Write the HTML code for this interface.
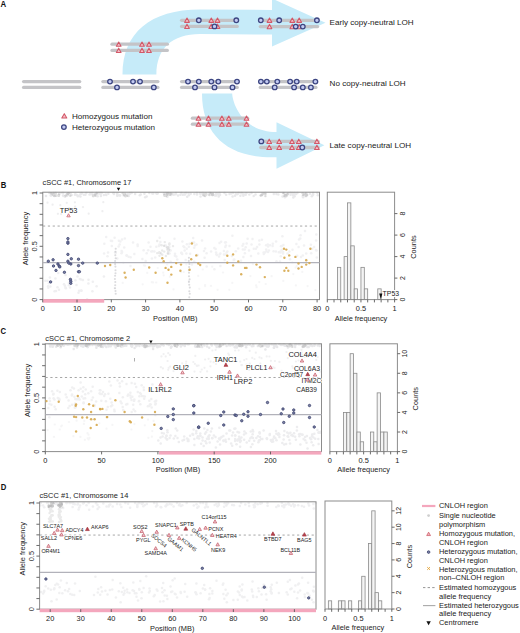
<!DOCTYPE html>
<html><head><meta charset="utf-8"><style>
html,body{margin:0;padding:0;background:#fff;width:520px;height:633px;overflow:hidden}
svg{display:block;font-family:"Liberation Sans",sans-serif}
</style></head><body>
<svg width="520" height="633" viewBox="0 0 520 633">
<text transform="translate(0.4,7.1) scale(0.8,1)" font-size="9.8" font-weight="bold" fill="#111">A</text>
<path d="M122.5,74.5 C122.5,32.84 150.40,9.4 200,9.4 L272,9.9 L272,-1.5 L325.5,22.8 L272,46.5 L272,34.5 L200,34.0 C172.10,34.0 156.4,48.58 156.4,74.5 Z" fill="#c6ebf9"/>
<path d="M202.0,93.5 C202.0,134.33 227.20,157.3 272,157.3 L276.5,157.3 L276.5,168.8 L324.4,145.3 L276.5,122.3 L276.5,132.0 C241.06,132.0 232.2,101.20 232.2,93.5 Z" fill="#c6ebf9"/>
<line x1="23.6" y1="81.6" x2="79.7" y2="81.6" stroke="#c4c4c7" stroke-width="3.3" stroke-linecap="round"/>
<line x1="23.6" y1="87.4" x2="79.7" y2="87.4" stroke="#c4c4c7" stroke-width="3.3" stroke-linecap="round"/>
<line x1="102.89999999999999" y1="81.6" x2="157.9" y2="81.6" stroke="#c4c4c7" stroke-width="3.3" stroke-linecap="round"/>
<line x1="102.89999999999999" y1="87.4" x2="157.9" y2="87.4" stroke="#c4c4c7" stroke-width="3.3" stroke-linecap="round"/>
<circle cx="110.00" cy="81.60" r="2.3" fill="#c3cbf2" stroke="#3d4682" stroke-width="1.3"/>
<circle cx="133.00" cy="81.60" r="2.3" fill="#c3cbf2" stroke="#3d4682" stroke-width="1.3"/>
<circle cx="140.00" cy="81.60" r="2.3" fill="#c3cbf2" stroke="#3d4682" stroke-width="1.3"/>
<circle cx="117.00" cy="87.40" r="2.3" fill="#c3cbf2" stroke="#3d4682" stroke-width="1.3"/>
<circle cx="153.80" cy="87.40" r="2.3" fill="#c3cbf2" stroke="#3d4682" stroke-width="1.3"/>
<line x1="181.6" y1="81.6" x2="237.20000000000002" y2="81.6" stroke="#c4c4c7" stroke-width="3.3" stroke-linecap="round"/>
<line x1="181.6" y1="87.4" x2="237.20000000000002" y2="87.4" stroke="#c4c4c7" stroke-width="3.3" stroke-linecap="round"/>
<circle cx="188.00" cy="81.60" r="2.3" fill="#c3cbf2" stroke="#3d4682" stroke-width="1.3"/>
<circle cx="198.80" cy="81.60" r="2.3" fill="#c3cbf2" stroke="#3d4682" stroke-width="1.3"/>
<circle cx="211.30" cy="81.60" r="2.3" fill="#c3cbf2" stroke="#3d4682" stroke-width="1.3"/>
<circle cx="218.30" cy="81.60" r="2.3" fill="#c3cbf2" stroke="#3d4682" stroke-width="1.3"/>
<circle cx="237.00" cy="81.60" r="2.3" fill="#c3cbf2" stroke="#3d4682" stroke-width="1.3"/>
<circle cx="195.00" cy="87.40" r="2.3" fill="#c3cbf2" stroke="#3d4682" stroke-width="1.3"/>
<circle cx="214.50" cy="87.40" r="2.3" fill="#c3cbf2" stroke="#3d4682" stroke-width="1.3"/>
<circle cx="232.50" cy="87.40" r="2.3" fill="#c3cbf2" stroke="#3d4682" stroke-width="1.3"/>
<line x1="260.3" y1="81.6" x2="315.9" y2="81.6" stroke="#c4c4c7" stroke-width="3.3" stroke-linecap="round"/>
<line x1="260.3" y1="87.4" x2="315.9" y2="87.4" stroke="#c4c4c7" stroke-width="3.3" stroke-linecap="round"/>
<circle cx="260.90" cy="81.60" r="2.3" fill="#c3cbf2" stroke="#3d4682" stroke-width="1.3"/>
<circle cx="266.80" cy="81.60" r="2.3" fill="#c3cbf2" stroke="#3d4682" stroke-width="1.3"/>
<circle cx="277.30" cy="81.60" r="2.3" fill="#c3cbf2" stroke="#3d4682" stroke-width="1.3"/>
<circle cx="290.10" cy="81.60" r="2.3" fill="#c3cbf2" stroke="#3d4682" stroke-width="1.3"/>
<circle cx="296.70" cy="81.60" r="2.3" fill="#c3cbf2" stroke="#3d4682" stroke-width="1.3"/>
<circle cx="315.40" cy="81.60" r="2.3" fill="#c3cbf2" stroke="#3d4682" stroke-width="1.3"/>
<circle cx="274.70" cy="87.40" r="2.3" fill="#c3cbf2" stroke="#3d4682" stroke-width="1.3"/>
<circle cx="294.10" cy="87.40" r="2.3" fill="#c3cbf2" stroke="#3d4682" stroke-width="1.3"/>
<circle cx="302.80" cy="87.40" r="2.3" fill="#c3cbf2" stroke="#3d4682" stroke-width="1.3"/>
<circle cx="310.90" cy="87.40" r="2.3" fill="#c3cbf2" stroke="#3d4682" stroke-width="1.3"/>
<line x1="112.0" y1="44.2" x2="167.3" y2="44.2" stroke="#c4c4c7" stroke-width="3.3" stroke-linecap="round"/>
<line x1="112.0" y1="50.4" x2="167.3" y2="50.4" stroke="#c4c4c7" stroke-width="3.3" stroke-linecap="round"/>
<path d="M118.70,41.95 L121.05,46.25 L116.35,46.25 Z" fill="#f6bfc8" stroke="#d25868" stroke-width="1.05" stroke-linejoin="round"/>
<path d="M118.70,48.15 L121.05,52.45 L116.35,52.45 Z" fill="#f6bfc8" stroke="#d25868" stroke-width="1.05" stroke-linejoin="round"/>
<path d="M142.00,41.95 L144.35,46.25 L139.65,46.25 Z" fill="#f6bfc8" stroke="#d25868" stroke-width="1.05" stroke-linejoin="round"/>
<path d="M142.00,48.15 L144.35,52.45 L139.65,52.45 Z" fill="#f6bfc8" stroke="#d25868" stroke-width="1.05" stroke-linejoin="round"/>
<path d="M149.00,41.95 L151.35,46.25 L146.65,46.25 Z" fill="#f6bfc8" stroke="#d25868" stroke-width="1.05" stroke-linejoin="round"/>
<path d="M149.00,48.15 L151.35,52.45 L146.65,52.45 Z" fill="#f6bfc8" stroke="#d25868" stroke-width="1.05" stroke-linejoin="round"/>
<line x1="181.6" y1="20.3" x2="237.20000000000002" y2="20.3" stroke="#c4c4c7" stroke-width="3.3" stroke-linecap="round"/>
<line x1="181.6" y1="26.4" x2="237.20000000000002" y2="26.4" stroke="#c4c4c7" stroke-width="3.3" stroke-linecap="round"/>
<path d="M187.00,18.05 L189.35,22.35 L184.65,22.35 Z" fill="#f6bfc8" stroke="#d25868" stroke-width="1.05" stroke-linejoin="round"/>
<path d="M211.30,18.05 L213.65,22.35 L208.95,22.35 Z" fill="#f6bfc8" stroke="#d25868" stroke-width="1.05" stroke-linejoin="round"/>
<path d="M217.50,18.05 L219.85,22.35 L215.15,22.35 Z" fill="#f6bfc8" stroke="#d25868" stroke-width="1.05" stroke-linejoin="round"/>
<circle cx="198.80" cy="20.30" r="2.3" fill="#c3cbf2" stroke="#3d4682" stroke-width="1.3"/>
<circle cx="236.30" cy="20.30" r="2.3" fill="#c3cbf2" stroke="#3d4682" stroke-width="1.3"/>
<path d="M187.00,24.15 L189.35,28.45 L184.65,28.45 Z" fill="#f6bfc8" stroke="#d25868" stroke-width="1.05" stroke-linejoin="round"/>
<path d="M211.30,24.15 L213.65,28.45 L208.95,28.45 Z" fill="#f6bfc8" stroke="#d25868" stroke-width="1.05" stroke-linejoin="round"/>
<path d="M217.50,24.15 L219.85,28.45 L215.15,28.45 Z" fill="#f6bfc8" stroke="#d25868" stroke-width="1.05" stroke-linejoin="round"/>
<circle cx="214.50" cy="26.40" r="2.3" fill="#c3cbf2" stroke="#3d4682" stroke-width="1.3"/>
<line x1="260.3" y1="20.3" x2="317.59999999999997" y2="20.3" stroke="#c4c4c7" stroke-width="3.3" stroke-linecap="round"/>
<line x1="260.3" y1="26.6" x2="317.59999999999997" y2="26.6" stroke="#c4c4c7" stroke-width="3.3" stroke-linecap="round"/>
<path d="M269.50,18.05 L271.85,22.35 L267.15,22.35 Z" fill="#f6bfc8" stroke="#d25868" stroke-width="1.05" stroke-linejoin="round"/>
<path d="M292.30,18.05 L294.65,22.35 L289.95,22.35 Z" fill="#f6bfc8" stroke="#d25868" stroke-width="1.05" stroke-linejoin="round"/>
<path d="M299.20,18.05 L301.55,22.35 L296.85,22.35 Z" fill="#f6bfc8" stroke="#d25868" stroke-width="1.05" stroke-linejoin="round"/>
<circle cx="260.80" cy="20.30" r="2.3" fill="#c3cbf2" stroke="#3d4682" stroke-width="1.3"/>
<circle cx="279.20" cy="20.30" r="2.3" fill="#c3cbf2" stroke="#3d4682" stroke-width="1.3"/>
<circle cx="316.90" cy="20.30" r="2.3" fill="#c3cbf2" stroke="#3d4682" stroke-width="1.3"/>
<path d="M269.50,24.35 L271.85,28.65 L267.15,28.65 Z" fill="#f6bfc8" stroke="#d25868" stroke-width="1.05" stroke-linejoin="round"/>
<path d="M292.30,24.35 L294.65,28.65 L289.95,28.65 Z" fill="#f6bfc8" stroke="#d25868" stroke-width="1.05" stroke-linejoin="round"/>
<path d="M299.20,24.35 L301.55,28.65 L296.85,28.65 Z" fill="#f6bfc8" stroke="#d25868" stroke-width="1.05" stroke-linejoin="round"/>
<circle cx="295.70" cy="26.60" r="2.3" fill="#c3cbf2" stroke="#3d4682" stroke-width="1.3"/>
<circle cx="302.80" cy="26.60" r="2.3" fill="#c3cbf2" stroke="#3d4682" stroke-width="1.3"/>
<line x1="192.4" y1="118.2" x2="247.70000000000002" y2="118.2" stroke="#c4c4c7" stroke-width="3.3" stroke-linecap="round"/>
<line x1="192.4" y1="124.2" x2="247.70000000000002" y2="124.2" stroke="#c4c4c7" stroke-width="3.3" stroke-linecap="round"/>
<path d="M198.50,115.95 L200.85,120.25 L196.15,120.25 Z" fill="#f6bfc8" stroke="#d25868" stroke-width="1.05" stroke-linejoin="round"/>
<path d="M198.50,121.95 L200.85,126.25 L196.15,126.25 Z" fill="#f6bfc8" stroke="#d25868" stroke-width="1.05" stroke-linejoin="round"/>
<path d="M208.50,115.95 L210.85,120.25 L206.15,120.25 Z" fill="#f6bfc8" stroke="#d25868" stroke-width="1.05" stroke-linejoin="round"/>
<path d="M208.50,121.95 L210.85,126.25 L206.15,126.25 Z" fill="#f6bfc8" stroke="#d25868" stroke-width="1.05" stroke-linejoin="round"/>
<path d="M221.90,115.95 L224.25,120.25 L219.55,120.25 Z" fill="#f6bfc8" stroke="#d25868" stroke-width="1.05" stroke-linejoin="round"/>
<path d="M221.90,121.95 L224.25,126.25 L219.55,126.25 Z" fill="#f6bfc8" stroke="#d25868" stroke-width="1.05" stroke-linejoin="round"/>
<path d="M228.80,115.95 L231.15,120.25 L226.45,120.25 Z" fill="#f6bfc8" stroke="#d25868" stroke-width="1.05" stroke-linejoin="round"/>
<path d="M228.80,121.95 L231.15,126.25 L226.45,126.25 Z" fill="#f6bfc8" stroke="#d25868" stroke-width="1.05" stroke-linejoin="round"/>
<path d="M246.50,115.95 L248.85,120.25 L244.15,120.25 Z" fill="#f6bfc8" stroke="#d25868" stroke-width="1.05" stroke-linejoin="round"/>
<path d="M246.50,121.95 L248.85,126.25 L244.15,126.25 Z" fill="#f6bfc8" stroke="#d25868" stroke-width="1.05" stroke-linejoin="round"/>
<line x1="260.8" y1="141.4" x2="318.2" y2="141.4" stroke="#c4c4c7" stroke-width="3.3" stroke-linecap="round"/>
<line x1="260.8" y1="147.5" x2="318.2" y2="147.5" stroke="#c4c4c7" stroke-width="3.3" stroke-linecap="round"/>
<circle cx="261.30" cy="141.40" r="2.3" fill="#c3cbf2" stroke="#3d4682" stroke-width="1.3"/>
<path d="M269.20,139.15 L271.55,143.45 L266.85,143.45 Z" fill="#f6bfc8" stroke="#d25868" stroke-width="1.05" stroke-linejoin="round"/>
<path d="M279.20,139.15 L281.55,143.45 L276.85,143.45 Z" fill="#f6bfc8" stroke="#d25868" stroke-width="1.05" stroke-linejoin="round"/>
<path d="M292.00,139.15 L294.35,143.45 L289.65,143.45 Z" fill="#f6bfc8" stroke="#d25868" stroke-width="1.05" stroke-linejoin="round"/>
<path d="M298.80,139.15 L301.15,143.45 L296.45,143.45 Z" fill="#f6bfc8" stroke="#d25868" stroke-width="1.05" stroke-linejoin="round"/>
<path d="M316.90,139.15 L319.25,143.45 L314.55,143.45 Z" fill="#f6bfc8" stroke="#d25868" stroke-width="1.05" stroke-linejoin="round"/>
<path d="M269.20,145.25 L271.55,149.55 L266.85,149.55 Z" fill="#f6bfc8" stroke="#d25868" stroke-width="1.05" stroke-linejoin="round"/>
<path d="M279.20,145.25 L281.55,149.55 L276.85,149.55 Z" fill="#f6bfc8" stroke="#d25868" stroke-width="1.05" stroke-linejoin="round"/>
<path d="M292.00,145.25 L294.35,149.55 L289.65,149.55 Z" fill="#f6bfc8" stroke="#d25868" stroke-width="1.05" stroke-linejoin="round"/>
<path d="M298.80,145.25 L301.15,149.55 L296.45,149.55 Z" fill="#f6bfc8" stroke="#d25868" stroke-width="1.05" stroke-linejoin="round"/>
<path d="M316.90,145.25 L319.25,149.55 L314.55,149.55 Z" fill="#f6bfc8" stroke="#d25868" stroke-width="1.05" stroke-linejoin="round"/>
<circle cx="302.30" cy="147.50" r="2.3" fill="#c3cbf2" stroke="#3d4682" stroke-width="1.3"/>
<path d="M64.30,113.65 L66.80,117.95 L61.80,117.95 Z" fill="#f6bfc8" stroke="#d25868" stroke-width="1.05" stroke-linejoin="round"/>
<circle cx="63.90" cy="127.10" r="2.3" fill="#c3cbf2" stroke="#3d4682" stroke-width="1.3"/>
<text x="71.90" y="119.10" font-size="8.1" text-anchor="start" fill="#222" font-weight="normal">Homozygous mutation</text>
<text x="71.90" y="130.10" font-size="8.1" text-anchor="start" fill="#222" font-weight="normal">Heterozygous mutation</text>
<text x="329.60" y="25.00" font-size="8.1" text-anchor="start" fill="#222" font-weight="normal">Early copy-neutral LOH</text>
<text x="329.60" y="86.40" font-size="8.1" text-anchor="start" fill="#222" font-weight="normal">No copy-neutral LOH</text>
<text x="329.60" y="147.50" font-size="8.1" text-anchor="start" fill="#222" font-weight="normal">Late copy-neutral LOH</text>
<text transform="translate(0.8,187.6) scale(0.78,1)" font-size="9.9" font-weight="bold" fill="#111">B</text>
<text x="42.50" y="185.30" font-size="7.45" text-anchor="start" fill="#222" font-weight="normal">cSCC #1, Chromosome 17</text>
<g fill="#8a8a96" opacity="0.18"><circle cx="167.4" cy="196.8" r="1.25"/><circle cx="171.1" cy="195.1" r="1.25"/><circle cx="182.7" cy="194.8" r="1.25"/><circle cx="183.8" cy="194.5" r="1.25"/><circle cx="216.2" cy="193.9" r="1.25"/><circle cx="126.4" cy="194.6" r="1.25"/><circle cx="67.9" cy="193.3" r="1.25"/><circle cx="54.5" cy="195.9" r="1.25"/><circle cx="313.1" cy="193.0" r="1.25"/><circle cx="212.3" cy="194.5" r="1.25"/><circle cx="86.3" cy="193.0" r="1.25"/><circle cx="59.4" cy="193.9" r="1.25"/><circle cx="95.3" cy="194.1" r="1.25"/><circle cx="170.6" cy="193.8" r="1.25"/><circle cx="164.1" cy="193.2" r="1.25"/><circle cx="219.1" cy="195.4" r="1.25"/><circle cx="180.4" cy="194.8" r="1.25"/><circle cx="119.5" cy="195.3" r="1.25"/><circle cx="317.4" cy="193.0" r="1.25"/><circle cx="237.6" cy="194.1" r="1.25"/><circle cx="129.7" cy="193.9" r="1.25"/><circle cx="62.3" cy="193.0" r="1.25"/><circle cx="253.7" cy="196.1" r="1.25"/><circle cx="149.3" cy="193.0" r="1.25"/><circle cx="306.5" cy="194.0" r="1.25"/><circle cx="100.7" cy="194.1" r="1.25"/><circle cx="293.3" cy="197.6" r="1.25"/><circle cx="152.3" cy="193.4" r="1.25"/><circle cx="63.1" cy="195.6" r="1.25"/><circle cx="117.2" cy="195.7" r="1.25"/><circle cx="67.0" cy="195.7" r="1.25"/><circle cx="251.5" cy="193.0" r="1.25"/><circle cx="75.4" cy="194.1" r="1.25"/><circle cx="59.5" cy="193.5" r="1.25"/><circle cx="262.2" cy="193.3" r="1.25"/><circle cx="166.0" cy="193.0" r="1.25"/><circle cx="95.4" cy="194.1" r="1.25"/><circle cx="220.0" cy="194.7" r="1.25"/><circle cx="75.0" cy="194.8" r="1.25"/><circle cx="117.2" cy="193.6" r="1.25"/><circle cx="310.0" cy="193.7" r="1.25"/><circle cx="286.3" cy="195.1" r="1.25"/><circle cx="100.9" cy="196.0" r="1.25"/><circle cx="219.5" cy="193.0" r="1.25"/><circle cx="70.6" cy="193.2" r="1.25"/><circle cx="114.0" cy="194.1" r="1.25"/><circle cx="255.5" cy="194.6" r="1.25"/><circle cx="63.2" cy="193.1" r="1.25"/><circle cx="67.8" cy="194.9" r="1.25"/><circle cx="208.4" cy="194.5" r="1.25"/><circle cx="145.2" cy="197.2" r="1.25"/><circle cx="176.0" cy="193.1" r="1.25"/><circle cx="201.0" cy="193.5" r="1.25"/><circle cx="85.4" cy="194.7" r="1.25"/><circle cx="292.8" cy="193.7" r="1.25"/><circle cx="95.2" cy="194.9" r="1.25"/><circle cx="246.3" cy="193.3" r="1.25"/><circle cx="304.3" cy="194.4" r="1.25"/><circle cx="285.6" cy="195.1" r="1.25"/><circle cx="71.6" cy="194.9" r="1.25"/><circle cx="53.6" cy="193.1" r="1.25"/><circle cx="236.8" cy="194.3" r="1.25"/><circle cx="113.7" cy="193.3" r="1.25"/><circle cx="123.7" cy="195.6" r="1.25"/><circle cx="91.2" cy="194.2" r="1.25"/><circle cx="105.8" cy="194.5" r="1.25"/><circle cx="196.8" cy="193.0" r="1.25"/><circle cx="120.1" cy="195.5" r="1.25"/><circle cx="295.3" cy="194.0" r="1.25"/><circle cx="117.0" cy="193.8" r="1.25"/><circle cx="165.6" cy="193.3" r="1.25"/><circle cx="144.4" cy="193.8" r="1.25"/><circle cx="200.3" cy="193.2" r="1.25"/><circle cx="288.0" cy="193.2" r="1.25"/><circle cx="312.6" cy="195.1" r="1.25"/><circle cx="203.7" cy="195.7" r="1.25"/><circle cx="81.6" cy="193.8" r="1.25"/><circle cx="293.3" cy="194.0" r="1.25"/><circle cx="235.8" cy="193.8" r="1.25"/><circle cx="218.0" cy="194.1" r="1.25"/><circle cx="175.6" cy="194.2" r="1.25"/><circle cx="317.8" cy="195.2" r="1.25"/><circle cx="63.7" cy="196.1" r="1.25"/><circle cx="290.6" cy="194.7" r="1.25"/><circle cx="245.7" cy="194.7" r="1.25"/><circle cx="294.6" cy="196.2" r="1.25"/><circle cx="139.8" cy="195.2" r="1.25"/><circle cx="282.6" cy="196.6" r="1.25"/><circle cx="157.7" cy="193.4" r="1.25"/><circle cx="200.5" cy="196.5" r="1.25"/><circle cx="214.9" cy="195.3" r="1.25"/><circle cx="210.4" cy="193.0" r="1.25"/><circle cx="65.1" cy="196.7" r="1.25"/><circle cx="284.9" cy="197.2" r="1.25"/><circle cx="243.3" cy="195.7" r="1.25"/><circle cx="202.8" cy="193.0" r="1.25"/><circle cx="164.1" cy="193.8" r="1.25"/><circle cx="249.3" cy="194.5" r="1.25"/><circle cx="51.2" cy="195.2" r="1.25"/><circle cx="106.3" cy="194.9" r="1.25"/><circle cx="235.0" cy="195.8" r="1.25"/><circle cx="296.1" cy="194.0" r="1.25"/><circle cx="113.4" cy="193.0" r="1.25"/><circle cx="229.5" cy="194.0" r="1.25"/><circle cx="98.7" cy="193.0" r="1.25"/><circle cx="224.5" cy="193.0" r="1.25"/><circle cx="164.5" cy="193.2" r="1.25"/><circle cx="226.1" cy="194.8" r="1.25"/><circle cx="97.6" cy="196.2" r="1.25"/><circle cx="294.4" cy="193.1" r="1.25"/><circle cx="285.1" cy="195.3" r="1.25"/><circle cx="130.0" cy="193.0" r="1.25"/><circle cx="80.4" cy="196.5" r="1.25"/><circle cx="276.4" cy="194.0" r="1.25"/><circle cx="238.6" cy="193.1" r="1.25"/><circle cx="89.5" cy="194.4" r="1.25"/><circle cx="166.9" cy="194.2" r="1.25"/><circle cx="156.8" cy="193.2" r="1.25"/><circle cx="215.1" cy="195.2" r="1.25"/><circle cx="273.8" cy="194.0" r="1.25"/><circle cx="313.1" cy="194.5" r="1.25"/><circle cx="51.7" cy="193.9" r="1.25"/><circle cx="283.0" cy="193.0" r="1.25"/><circle cx="199.9" cy="193.5" r="1.25"/><circle cx="128.0" cy="194.0" r="1.25"/><circle cx="80.4" cy="194.3" r="1.25"/><circle cx="168.1" cy="193.0" r="1.25"/><circle cx="108.3" cy="193.7" r="1.25"/><circle cx="81.7" cy="193.0" r="1.25"/><circle cx="165.8" cy="193.5" r="1.25"/><circle cx="216.2" cy="195.4" r="1.25"/><circle cx="306.6" cy="196.0" r="1.25"/><circle cx="231.2" cy="193.6" r="1.25"/><circle cx="92.1" cy="193.0" r="1.25"/><circle cx="46.0" cy="196.1" r="1.25"/><circle cx="92.3" cy="193.7" r="1.25"/><circle cx="117.9" cy="195.2" r="1.25"/><circle cx="186.1" cy="193.0" r="1.25"/><circle cx="212.0" cy="194.0" r="1.25"/><circle cx="260.8" cy="195.3" r="1.25"/><circle cx="292.2" cy="193.0" r="1.25"/><circle cx="241.7" cy="193.0" r="1.25"/><circle cx="78.7" cy="195.8" r="1.25"/><circle cx="293.2" cy="193.5" r="1.25"/><circle cx="146.6" cy="196.5" r="1.25"/><circle cx="262.1" cy="195.2" r="1.25"/><circle cx="302.7" cy="195.9" r="1.25"/><circle cx="99.3" cy="193.6" r="1.25"/><circle cx="241.5" cy="193.3" r="1.25"/><circle cx="240.4" cy="195.7" r="1.25"/><circle cx="101.7" cy="193.0" r="1.25"/><circle cx="311.8" cy="196.2" r="1.25"/><circle cx="190.7" cy="193.8" r="1.25"/><circle cx="293.2" cy="195.2" r="1.25"/><circle cx="278.3" cy="194.4" r="1.25"/><circle cx="164.2" cy="193.6" r="1.25"/><circle cx="194.3" cy="193.9" r="1.25"/><circle cx="50.8" cy="195.5" r="1.25"/><circle cx="265.5" cy="193.0" r="1.25"/><circle cx="90.5" cy="193.2" r="1.25"/><circle cx="135.1" cy="193.9" r="1.25"/><circle cx="83.9" cy="194.8" r="1.25"/><circle cx="185.0" cy="194.5" r="1.25"/><circle cx="232.6" cy="196.5" r="1.25"/><circle cx="303.1" cy="197.2" r="1.25"/><circle cx="66.7" cy="193.9" r="1.25"/><circle cx="103.9" cy="195.1" r="1.25"/><circle cx="243.4" cy="194.2" r="1.25"/><circle cx="218.7" cy="196.5" r="1.25"/><circle cx="197.0" cy="194.4" r="1.25"/><circle cx="128.7" cy="195.9" r="1.25"/><circle cx="290.6" cy="193.0" r="1.25"/><circle cx="100.3" cy="193.0" r="1.25"/><circle cx="187.2" cy="196.8" r="1.25"/><circle cx="200.6" cy="193.6" r="1.25"/><circle cx="181.4" cy="193.0" r="1.25"/><circle cx="209.4" cy="193.0" r="1.25"/><circle cx="184.9" cy="193.5" r="1.25"/><circle cx="153.2" cy="193.5" r="1.25"/><circle cx="178.0" cy="195.6" r="1.25"/><circle cx="233.0" cy="193.0" r="1.25"/><circle cx="156.8" cy="193.4" r="1.25"/><circle cx="306.1" cy="193.2" r="1.25"/><circle cx="173.1" cy="194.5" r="1.25"/><circle cx="77.9" cy="196.2" r="1.25"/><circle cx="290.7" cy="193.1" r="1.25"/><circle cx="174.0" cy="194.4" r="1.25"/><circle cx="212.9" cy="193.3" r="1.25"/><circle cx="297.4" cy="193.0" r="1.25"/><circle cx="49.3" cy="193.0" r="1.25"/><circle cx="96.4" cy="193.8" r="1.25"/><circle cx="131.6" cy="193.0" r="1.25"/><circle cx="140.7" cy="194.5" r="1.25"/><circle cx="244.0" cy="194.5" r="1.25"/><circle cx="76.8" cy="195.0" r="1.25"/><circle cx="97.4" cy="194.1" r="1.25"/><circle cx="188.8" cy="195.2" r="1.25"/><circle cx="156.7" cy="193.6" r="1.25"/><circle cx="188.6" cy="193.6" r="1.25"/><circle cx="216.6" cy="193.3" r="1.25"/></g>
<g fill="#666" opacity="0.22"><circle cx="52.7" cy="194.5" r="1.2"/><circle cx="53.8" cy="194.2" r="1.2"/><circle cx="53.8" cy="195.5" r="1.2"/><circle cx="53.2" cy="193.6" r="1.2"/><circle cx="54.0" cy="195.2" r="1.2"/><circle cx="51.1" cy="193.2" r="1.2"/><circle cx="55.6" cy="193.0" r="1.2"/><circle cx="58.9" cy="195.8" r="1.2"/><circle cx="55.7" cy="193.9" r="1.2"/><circle cx="55.8" cy="195.9" r="1.2"/><circle cx="58.7" cy="194.8" r="1.2"/><circle cx="58.4" cy="195.8" r="1.2"/><circle cx="67.5" cy="194.0" r="1.2"/><circle cx="65.6" cy="195.6" r="1.2"/><circle cx="68.9" cy="193.3" r="1.2"/><circle cx="70.3" cy="195.8" r="1.2"/><circle cx="68.0" cy="193.8" r="1.2"/><circle cx="68.0" cy="194.0" r="1.2"/><circle cx="93.4" cy="196.0" r="1.2"/><circle cx="93.0" cy="196.1" r="1.2"/><circle cx="95.3" cy="194.6" r="1.2"/><circle cx="95.3" cy="195.7" r="1.2"/><circle cx="93.4" cy="195.5" r="1.2"/><circle cx="96.7" cy="193.0" r="1.2"/><circle cx="127.1" cy="195.9" r="1.2"/><circle cx="122.8" cy="193.2" r="1.2"/><circle cx="124.8" cy="193.8" r="1.2"/><circle cx="124.1" cy="194.7" r="1.2"/><circle cx="125.1" cy="194.8" r="1.2"/><circle cx="125.5" cy="196.2" r="1.2"/><circle cx="167.0" cy="193.5" r="1.2"/><circle cx="164.4" cy="194.7" r="1.2"/><circle cx="167.2" cy="194.9" r="1.2"/><circle cx="164.5" cy="195.7" r="1.2"/><circle cx="166.1" cy="196.1" r="1.2"/><circle cx="168.0" cy="193.6" r="1.2"/><circle cx="170.0" cy="193.4" r="1.2"/><circle cx="169.6" cy="194.9" r="1.2"/><circle cx="169.5" cy="194.6" r="1.2"/><circle cx="171.4" cy="193.6" r="1.2"/><circle cx="167.8" cy="193.3" r="1.2"/><circle cx="170.2" cy="193.7" r="1.2"/><circle cx="205.6" cy="194.9" r="1.2"/><circle cx="206.0" cy="193.4" r="1.2"/><circle cx="205.0" cy="193.7" r="1.2"/><circle cx="205.3" cy="194.9" r="1.2"/><circle cx="205.1" cy="196.0" r="1.2"/><circle cx="203.2" cy="194.7" r="1.2"/><circle cx="209.6" cy="195.1" r="1.2"/><circle cx="212.7" cy="194.2" r="1.2"/><circle cx="210.7" cy="193.2" r="1.2"/><circle cx="212.8" cy="195.1" r="1.2"/><circle cx="212.8" cy="194.4" r="1.2"/><circle cx="212.2" cy="195.0" r="1.2"/><circle cx="265.5" cy="194.1" r="1.2"/><circle cx="264.0" cy="193.8" r="1.2"/><circle cx="265.4" cy="196.1" r="1.2"/><circle cx="263.6" cy="193.8" r="1.2"/><circle cx="261.8" cy="194.9" r="1.2"/><circle cx="260.8" cy="195.6" r="1.2"/><circle cx="284.4" cy="195.9" r="1.2"/><circle cx="283.8" cy="193.3" r="1.2"/><circle cx="285.3" cy="194.6" r="1.2"/><circle cx="287.3" cy="194.4" r="1.2"/><circle cx="287.5" cy="194.2" r="1.2"/><circle cx="286.5" cy="196.0" r="1.2"/><circle cx="305.5" cy="193.8" r="1.2"/><circle cx="302.7" cy="193.2" r="1.2"/><circle cx="303.3" cy="194.7" r="1.2"/><circle cx="303.3" cy="194.6" r="1.2"/><circle cx="305.6" cy="196.0" r="1.2"/><circle cx="307.2" cy="194.9" r="1.2"/></g>
<g fill="#8a8a96" opacity="0.14"><circle cx="75.1" cy="206.7" r="1.1"/><circle cx="65.3" cy="210.7" r="1.1"/><circle cx="83.0" cy="207.1" r="1.1"/><circle cx="60.3" cy="205.2" r="1.1"/><circle cx="61.1" cy="214.1" r="1.1"/><circle cx="57.9" cy="213.8" r="1.1"/><circle cx="52.6" cy="204.7" r="1.1"/><circle cx="66.8" cy="202.8" r="1.1"/><circle cx="88.7" cy="213.7" r="1.1"/><circle cx="103.3" cy="202.2" r="1.1"/><circle cx="47.5" cy="202.7" r="1.1"/><circle cx="69.2" cy="208.2" r="1.1"/><circle cx="102.4" cy="211.2" r="1.1"/><circle cx="74.9" cy="202.3" r="1.1"/></g>
<g fill="#8a8a96" opacity="0.13"><circle cx="87.1" cy="299.2" r="1.25"/><circle cx="92.8" cy="281.8" r="1.25"/><circle cx="79.8" cy="279.1" r="1.25"/><circle cx="70.8" cy="279.7" r="1.25"/><circle cx="55.4" cy="278.5" r="1.25"/><circle cx="50.6" cy="282.6" r="1.25"/><circle cx="70.0" cy="287.6" r="1.25"/><circle cx="59.0" cy="289.8" r="1.25"/><circle cx="78.5" cy="292.8" r="1.25"/><circle cx="75.4" cy="280.2" r="1.25"/><circle cx="103.9" cy="276.4" r="1.25"/><circle cx="57.5" cy="287.2" r="1.25"/><circle cx="49.9" cy="277.4" r="1.25"/><circle cx="81.1" cy="290.5" r="1.25"/><circle cx="64.9" cy="285.8" r="1.25"/><circle cx="77.5" cy="276.6" r="1.25"/><circle cx="79.1" cy="290.7" r="1.25"/><circle cx="54.6" cy="291.3" r="1.25"/><circle cx="58.2" cy="272.9" r="1.25"/><circle cx="96.6" cy="286.2" r="1.25"/><circle cx="45.4" cy="280.7" r="1.25"/><circle cx="68.9" cy="283.1" r="1.25"/><circle cx="81.0" cy="279.4" r="1.25"/><circle cx="47.4" cy="280.7" r="1.25"/><circle cx="48.3" cy="287.7" r="1.25"/><circle cx="81.5" cy="290.7" r="1.25"/><circle cx="65.8" cy="288.3" r="1.25"/><circle cx="64.0" cy="284.2" r="1.25"/><circle cx="88.4" cy="283.6" r="1.25"/><circle cx="50.3" cy="286.5" r="1.25"/><circle cx="92.4" cy="291.2" r="1.25"/><circle cx="56.0" cy="291.1" r="1.25"/><circle cx="68.9" cy="285.2" r="1.25"/><circle cx="65.5" cy="275.0" r="1.25"/><circle cx="82.9" cy="280.0" r="1.25"/><circle cx="76.5" cy="285.0" r="1.25"/><circle cx="88.5" cy="279.7" r="1.25"/><circle cx="65.5" cy="287.4" r="1.25"/><circle cx="48.9" cy="283.2" r="1.25"/><circle cx="48.1" cy="286.2" r="1.25"/></g>
<g fill="#8a8a96" opacity="0.11"><circle cx="224.7" cy="260.0" r="1.25"/><circle cx="168.0" cy="248.5" r="1.25"/><circle cx="270.0" cy="245.2" r="1.25"/><circle cx="245.7" cy="247.3" r="1.25"/><circle cx="121.5" cy="253.2" r="1.25"/><circle cx="252.5" cy="239.0" r="1.25"/><circle cx="164.5" cy="245.4" r="1.25"/><circle cx="259.4" cy="244.4" r="1.25"/><circle cx="182.4" cy="241.4" r="1.25"/><circle cx="225.8" cy="242.2" r="1.25"/><circle cx="300.6" cy="235.3" r="1.25"/><circle cx="197.7" cy="255.1" r="1.25"/><circle cx="275.9" cy="251.5" r="1.25"/><circle cx="189.5" cy="243.8" r="1.25"/><circle cx="304.0" cy="245.4" r="1.25"/><circle cx="181.4" cy="252.7" r="1.25"/><circle cx="182.2" cy="254.0" r="1.25"/><circle cx="186.9" cy="244.2" r="1.25"/><circle cx="145.7" cy="260.9" r="1.25"/><circle cx="219.7" cy="254.3" r="1.25"/><circle cx="283.0" cy="253.5" r="1.25"/><circle cx="266.4" cy="251.2" r="1.25"/><circle cx="292.5" cy="249.8" r="1.25"/><circle cx="214.3" cy="248.1" r="1.25"/><circle cx="220.4" cy="266.0" r="1.25"/><circle cx="243.4" cy="256.9" r="1.25"/><circle cx="276.1" cy="241.5" r="1.25"/><circle cx="272.6" cy="246.1" r="1.25"/><circle cx="122.0" cy="239.6" r="1.25"/><circle cx="296.4" cy="243.9" r="1.25"/><circle cx="122.1" cy="252.1" r="1.25"/><circle cx="263.6" cy="252.4" r="1.25"/><circle cx="242.9" cy="249.4" r="1.25"/><circle cx="267.8" cy="244.6" r="1.25"/><circle cx="215.6" cy="248.9" r="1.25"/><circle cx="176.3" cy="256.4" r="1.25"/><circle cx="311.2" cy="253.3" r="1.25"/><circle cx="219.0" cy="256.6" r="1.25"/><circle cx="258.3" cy="253.5" r="1.25"/><circle cx="191.9" cy="264.4" r="1.25"/><circle cx="280.8" cy="256.3" r="1.25"/><circle cx="276.5" cy="261.3" r="1.25"/><circle cx="282.4" cy="236.2" r="1.25"/><circle cx="241.0" cy="260.7" r="1.25"/><circle cx="216.1" cy="252.6" r="1.25"/><circle cx="194.2" cy="261.6" r="1.25"/><circle cx="194.0" cy="242.6" r="1.25"/><circle cx="316.1" cy="240.4" r="1.25"/><circle cx="184.4" cy="247.2" r="1.25"/><circle cx="194.9" cy="245.4" r="1.25"/><circle cx="166.5" cy="247.1" r="1.25"/><circle cx="170.0" cy="250.0" r="1.25"/><circle cx="128.6" cy="256.7" r="1.25"/><circle cx="142.4" cy="259.1" r="1.25"/><circle cx="117.3" cy="258.4" r="1.25"/><circle cx="298.6" cy="247.1" r="1.25"/><circle cx="111.8" cy="246.1" r="1.25"/><circle cx="150.5" cy="246.7" r="1.25"/><circle cx="154.4" cy="251.4" r="1.25"/><circle cx="151.9" cy="258.6" r="1.25"/><circle cx="143.6" cy="250.3" r="1.25"/><circle cx="266.1" cy="245.3" r="1.25"/><circle cx="170.7" cy="261.7" r="1.25"/><circle cx="206.6" cy="253.3" r="1.25"/><circle cx="159.7" cy="237.8" r="1.25"/><circle cx="177.2" cy="259.5" r="1.25"/><circle cx="221.1" cy="241.8" r="1.25"/><circle cx="151.3" cy="251.6" r="1.25"/><circle cx="114.6" cy="237.7" r="1.25"/><circle cx="186.4" cy="253.5" r="1.25"/><circle cx="216.9" cy="255.0" r="1.25"/><circle cx="315.9" cy="250.0" r="1.25"/><circle cx="244.7" cy="249.4" r="1.25"/><circle cx="205.1" cy="248.5" r="1.25"/><circle cx="183.5" cy="246.3" r="1.25"/><circle cx="233.7" cy="260.0" r="1.25"/><circle cx="137.7" cy="246.1" r="1.25"/><circle cx="159.5" cy="244.4" r="1.25"/><circle cx="290.0" cy="259.3" r="1.25"/><circle cx="316.5" cy="250.5" r="1.25"/><circle cx="161.0" cy="253.4" r="1.25"/><circle cx="268.9" cy="250.4" r="1.25"/><circle cx="104.3" cy="243.7" r="1.25"/><circle cx="279.9" cy="261.6" r="1.25"/><circle cx="121.6" cy="250.9" r="1.25"/><circle cx="124.8" cy="238.6" r="1.25"/><circle cx="206.7" cy="266.5" r="1.25"/><circle cx="229.5" cy="246.1" r="1.25"/><circle cx="287.5" cy="253.5" r="1.25"/><circle cx="193.2" cy="238.0" r="1.25"/><circle cx="300.2" cy="238.6" r="1.25"/><circle cx="148.6" cy="242.5" r="1.25"/><circle cx="220.3" cy="253.5" r="1.25"/><circle cx="282.0" cy="250.1" r="1.25"/><circle cx="170.6" cy="250.5" r="1.25"/><circle cx="169.4" cy="246.9" r="1.25"/><circle cx="204.0" cy="250.9" r="1.25"/><circle cx="251.0" cy="255.9" r="1.25"/><circle cx="126.6" cy="255.6" r="1.25"/><circle cx="310.9" cy="244.7" r="1.25"/><circle cx="281.6" cy="250.1" r="1.25"/><circle cx="184.7" cy="250.4" r="1.25"/><circle cx="255.9" cy="248.8" r="1.25"/><circle cx="202.0" cy="240.6" r="1.25"/><circle cx="106.2" cy="237.1" r="1.25"/><circle cx="148.2" cy="250.2" r="1.25"/><circle cx="235.8" cy="251.2" r="1.25"/><circle cx="219.5" cy="243.0" r="1.25"/><circle cx="167.8" cy="253.1" r="1.25"/><circle cx="246.7" cy="243.6" r="1.25"/><circle cx="158.9" cy="246.0" r="1.25"/><circle cx="174.5" cy="238.8" r="1.25"/><circle cx="306.2" cy="259.8" r="1.25"/><circle cx="175.0" cy="253.8" r="1.25"/><circle cx="281.0" cy="246.3" r="1.25"/><circle cx="124.2" cy="247.4" r="1.25"/><circle cx="249.0" cy="250.6" r="1.25"/><circle cx="190.1" cy="253.7" r="1.25"/><circle cx="283.1" cy="252.0" r="1.25"/><circle cx="152.5" cy="251.2" r="1.25"/><circle cx="137.6" cy="244.5" r="1.25"/><circle cx="119.6" cy="244.5" r="1.25"/><circle cx="301.0" cy="256.9" r="1.25"/><circle cx="242.5" cy="245.8" r="1.25"/><circle cx="268.1" cy="246.5" r="1.25"/><circle cx="174.9" cy="255.7" r="1.25"/><circle cx="192.2" cy="242.5" r="1.25"/><circle cx="253.8" cy="248.8" r="1.25"/><circle cx="314.1" cy="247.0" r="1.25"/><circle cx="234.2" cy="259.4" r="1.25"/><circle cx="108.0" cy="252.6" r="1.25"/><circle cx="243.3" cy="244.0" r="1.25"/><circle cx="126.7" cy="255.4" r="1.25"/><circle cx="272.8" cy="243.7" r="1.25"/><circle cx="280.6" cy="252.6" r="1.25"/><circle cx="268.0" cy="252.1" r="1.25"/><circle cx="297.2" cy="255.7" r="1.25"/><circle cx="211.1" cy="251.4" r="1.25"/><circle cx="134.3" cy="254.1" r="1.25"/><circle cx="214.4" cy="269.3" r="1.25"/><circle cx="257.1" cy="247.1" r="1.25"/><circle cx="306.2" cy="253.4" r="1.25"/><circle cx="238.2" cy="248.6" r="1.25"/><circle cx="156.3" cy="246.8" r="1.25"/><circle cx="227.4" cy="251.5" r="1.25"/><circle cx="302.8" cy="255.4" r="1.25"/><circle cx="181.3" cy="253.0" r="1.25"/><circle cx="312.3" cy="248.7" r="1.25"/><circle cx="133.0" cy="242.4" r="1.25"/><circle cx="224.0" cy="254.4" r="1.25"/><circle cx="223.9" cy="250.9" r="1.25"/><circle cx="316.3" cy="234.4" r="1.25"/><circle cx="278.9" cy="252.3" r="1.25"/><circle cx="280.5" cy="251.6" r="1.25"/><circle cx="165.8" cy="245.4" r="1.25"/><circle cx="226.7" cy="252.6" r="1.25"/><circle cx="281.8" cy="246.1" r="1.25"/><circle cx="120.3" cy="241.5" r="1.25"/><circle cx="110.9" cy="240.8" r="1.25"/><circle cx="305.0" cy="231.0" r="1.25"/><circle cx="244.9" cy="253.2" r="1.25"/><circle cx="261.9" cy="239.8" r="1.25"/><circle cx="185.7" cy="260.0" r="1.25"/><circle cx="107.5" cy="256.3" r="1.25"/><circle cx="146.7" cy="253.3" r="1.25"/><circle cx="186.7" cy="248.7" r="1.25"/><circle cx="225.9" cy="245.6" r="1.25"/><circle cx="160.4" cy="242.1" r="1.25"/><circle cx="225.6" cy="254.4" r="1.25"/><circle cx="112.1" cy="240.9" r="1.25"/><circle cx="247.6" cy="238.7" r="1.25"/><circle cx="232.4" cy="235.7" r="1.25"/><circle cx="204.6" cy="257.7" r="1.25"/><circle cx="251.5" cy="244.4" r="1.25"/><circle cx="266.2" cy="249.4" r="1.25"/><circle cx="316.8" cy="257.5" r="1.25"/><circle cx="283.4" cy="245.1" r="1.25"/><circle cx="196.9" cy="255.1" r="1.25"/><circle cx="225.1" cy="242.5" r="1.25"/><circle cx="216.4" cy="254.2" r="1.25"/><circle cx="196.5" cy="244.5" r="1.25"/><circle cx="115.7" cy="252.9" r="1.25"/><circle cx="259.3" cy="240.4" r="1.25"/><circle cx="231.9" cy="256.1" r="1.25"/><circle cx="264.9" cy="252.6" r="1.25"/><circle cx="118.9" cy="240.7" r="1.25"/><circle cx="130.6" cy="257.2" r="1.25"/><circle cx="188.9" cy="246.8" r="1.25"/><circle cx="115.1" cy="252.4" r="1.25"/><circle cx="155.2" cy="257.5" r="1.25"/><circle cx="169.5" cy="253.5" r="1.25"/><circle cx="118.6" cy="246.4" r="1.25"/><circle cx="299.0" cy="239.5" r="1.25"/><circle cx="289.4" cy="251.6" r="1.25"/><circle cx="194.2" cy="247.8" r="1.25"/><circle cx="263.8" cy="254.1" r="1.25"/><circle cx="225.3" cy="246.9" r="1.25"/><circle cx="273.6" cy="251.3" r="1.25"/><circle cx="130.5" cy="266.0" r="1.25"/><circle cx="104.1" cy="253.5" r="1.25"/></g>
<g fill="#8a8a96" opacity="0.08"><circle cx="156.2" cy="282.5" r="1.1"/><circle cx="173.5" cy="289.3" r="1.1"/><circle cx="295.6" cy="267.6" r="1.1"/><circle cx="189.0" cy="280.8" r="1.1"/><circle cx="229.3" cy="289.8" r="1.1"/><circle cx="110.7" cy="265.2" r="1.1"/><circle cx="169.9" cy="276.7" r="1.1"/><circle cx="303.9" cy="262.9" r="1.1"/><circle cx="205.1" cy="285.1" r="1.1"/><circle cx="167.2" cy="264.5" r="1.1"/><circle cx="295.9" cy="285.4" r="1.1"/><circle cx="283.3" cy="280.9" r="1.1"/><circle cx="205.1" cy="286.1" r="1.1"/><circle cx="292.3" cy="262.4" r="1.1"/><circle cx="147.2" cy="272.9" r="1.1"/><circle cx="145.0" cy="265.7" r="1.1"/><circle cx="114.7" cy="288.0" r="1.1"/><circle cx="259.3" cy="282.1" r="1.1"/><circle cx="296.7" cy="266.0" r="1.1"/><circle cx="256.6" cy="287.2" r="1.1"/><circle cx="252.9" cy="264.1" r="1.1"/><circle cx="199.3" cy="288.8" r="1.1"/><circle cx="151.8" cy="282.2" r="1.1"/><circle cx="256.1" cy="285.4" r="1.1"/><circle cx="142.7" cy="284.3" r="1.1"/><circle cx="246.2" cy="268.3" r="1.1"/><circle cx="183.7" cy="272.0" r="1.1"/><circle cx="293.3" cy="274.1" r="1.1"/><circle cx="153.0" cy="282.4" r="1.1"/><circle cx="302.3" cy="271.9" r="1.1"/><circle cx="163.2" cy="272.7" r="1.1"/><circle cx="123.3" cy="262.8" r="1.1"/><circle cx="198.2" cy="275.9" r="1.1"/><circle cx="217.6" cy="289.8" r="1.1"/><circle cx="232.3" cy="282.9" r="1.1"/><circle cx="157.7" cy="268.0" r="1.1"/><circle cx="122.7" cy="282.9" r="1.1"/><circle cx="265.7" cy="284.0" r="1.1"/><circle cx="163.7" cy="275.3" r="1.1"/><circle cx="143.9" cy="265.3" r="1.1"/><circle cx="315.4" cy="290.1" r="1.1"/><circle cx="202.8" cy="269.5" r="1.1"/><circle cx="186.3" cy="264.3" r="1.1"/><circle cx="211.0" cy="285.9" r="1.1"/><circle cx="223.0" cy="272.5" r="1.1"/><circle cx="181.0" cy="272.1" r="1.1"/><circle cx="271.6" cy="276.2" r="1.1"/><circle cx="212.2" cy="266.7" r="1.1"/><circle cx="250.4" cy="276.1" r="1.1"/><circle cx="307.6" cy="286.1" r="1.1"/></g>
<g fill="#7a7a84" opacity="0.26"><circle cx="115.7" cy="248.7" r="1.05"/><circle cx="115.5" cy="251.8" r="1.05"/><circle cx="115.3" cy="255.2" r="1.05"/><circle cx="115.7" cy="258.2" r="1.05"/><circle cx="115.1" cy="261.0" r="1.05"/><circle cx="115.1" cy="264.1" r="1.05"/><circle cx="115.4" cy="266.6" r="1.05"/><circle cx="115.5" cy="270.2" r="1.05"/><circle cx="115.5" cy="273.3" r="1.05"/><circle cx="115.1" cy="275.7" r="1.05"/><circle cx="114.9" cy="279.0" r="1.05"/><circle cx="115.3" cy="282.0" r="1.05"/><circle cx="115.2" cy="285.2" r="1.05"/><circle cx="115.0" cy="288.3" r="1.05"/><circle cx="115.5" cy="291.0" r="1.05"/><circle cx="115.7" cy="293.8" r="1.05"/><circle cx="188.9" cy="257.8" r="1.05"/><circle cx="188.8" cy="260.9" r="1.05"/><circle cx="189.4" cy="264.0" r="1.05"/><circle cx="189.1" cy="267.1" r="1.05"/><circle cx="188.9" cy="270.3" r="1.05"/><circle cx="189.0" cy="272.8" r="1.05"/><circle cx="189.0" cy="276.2" r="1.05"/><circle cx="189.6" cy="279.2" r="1.05"/><circle cx="188.9" cy="281.9" r="1.05"/><circle cx="189.2" cy="284.8" r="1.05"/><circle cx="189.8" cy="287.6" r="1.05"/><circle cx="189.3" cy="291.2" r="1.05"/><circle cx="189.8" cy="293.7" r="1.05"/><circle cx="189.3" cy="297.2" r="1.05"/></g>
<g fill="#666" opacity="0.13"><circle cx="157.2" cy="253.1" r="1.2"/><circle cx="162.3" cy="254.7" r="1.2"/><circle cx="159.4" cy="252.2" r="1.2"/><circle cx="159.5" cy="255.7" r="1.2"/><circle cx="157.2" cy="241.0" r="1.2"/><circle cx="161.6" cy="245.2" r="1.2"/><circle cx="158.4" cy="252.9" r="1.2"/><circle cx="160.3" cy="253.1" r="1.2"/><circle cx="164.8" cy="242.1" r="1.2"/><circle cx="164.2" cy="251.6" r="1.2"/><circle cx="167.9" cy="247.2" r="1.2"/><circle cx="162.2" cy="250.5" r="1.2"/><circle cx="165.9" cy="256.0" r="1.2"/><circle cx="164.1" cy="245.9" r="1.2"/><circle cx="167.2" cy="247.5" r="1.2"/><circle cx="167.3" cy="249.6" r="1.2"/><circle cx="169.4" cy="243.5" r="1.2"/><circle cx="169.3" cy="244.5" r="1.2"/><circle cx="168.3" cy="251.4" r="1.2"/><circle cx="168.1" cy="248.2" r="1.2"/><circle cx="168.0" cy="253.7" r="1.2"/><circle cx="168.3" cy="249.5" r="1.2"/><circle cx="168.9" cy="249.8" r="1.2"/><circle cx="173.0" cy="246.1" r="1.2"/></g>
<rect x="42.8" y="192.2" width="276.7" height="107.40000000000003" fill="none" stroke="#8c8c8c" stroke-width="1.0"/>
<line x1="43" y1="226.05" x2="319.5" y2="226.05" stroke="#9c9c9c" stroke-width="0.9" stroke-dasharray="2.2,2.65"/>
<line x1="43" y1="262.61" x2="319.5" y2="262.61" stroke="#b2b2ba" stroke-width="1.2"/>
<rect x="43" y="299.1" width="61.2" height="3.6" fill="#f4a7bd"/>
<line x1="39.599999999999994" y1="299.60" x2="42.8" y2="299.60" stroke="#5a5a5a" stroke-width="0.9"/>
<line x1="39.599999999999994" y1="288.94" x2="42.8" y2="288.94" stroke="#5a5a5a" stroke-width="0.9"/>
<line x1="39.599999999999994" y1="278.28" x2="42.8" y2="278.28" stroke="#5a5a5a" stroke-width="0.9"/>
<line x1="39.599999999999994" y1="267.62" x2="42.8" y2="267.62" stroke="#5a5a5a" stroke-width="0.9"/>
<line x1="39.599999999999994" y1="256.96" x2="42.8" y2="256.96" stroke="#5a5a5a" stroke-width="0.9"/>
<line x1="39.599999999999994" y1="246.30" x2="42.8" y2="246.30" stroke="#5a5a5a" stroke-width="0.9"/>
<line x1="39.599999999999994" y1="235.64" x2="42.8" y2="235.64" stroke="#5a5a5a" stroke-width="0.9"/>
<line x1="39.599999999999994" y1="224.98" x2="42.8" y2="224.98" stroke="#5a5a5a" stroke-width="0.9"/>
<line x1="39.599999999999994" y1="214.32" x2="42.8" y2="214.32" stroke="#5a5a5a" stroke-width="0.9"/>
<line x1="39.599999999999994" y1="203.66" x2="42.8" y2="203.66" stroke="#5a5a5a" stroke-width="0.9"/>
<line x1="39.599999999999994" y1="193.00" x2="42.8" y2="193.00" stroke="#5a5a5a" stroke-width="0.9"/>
<text x="37.20" y="299.60" font-size="7.4" text-anchor="middle" fill="#222" font-weight="normal" transform="rotate(-90 37.2 299.6)">0</text>
<text x="37.20" y="246.30" font-size="7.4" text-anchor="middle" fill="#222" font-weight="normal" transform="rotate(-90 37.2 246.3)">0.5</text>
<text x="37.20" y="193.00" font-size="7.4" text-anchor="middle" fill="#222" font-weight="normal" transform="rotate(-90 37.2 193.00000000000003)">1</text>
<text x="27.70" y="238.50" font-size="7.5" text-anchor="middle" fill="#222" font-weight="normal" transform="rotate(-90 27.7 238.5)">Allele frequency</text>
<line x1="42.70" y1="299.60" x2="42.70" y2="302.40" stroke="#5a5a5a" stroke-width="0.9"/>
<line x1="77.00" y1="299.60" x2="77.00" y2="302.40" stroke="#5a5a5a" stroke-width="0.9"/>
<line x1="111.30" y1="299.60" x2="111.30" y2="302.40" stroke="#5a5a5a" stroke-width="0.9"/>
<line x1="145.60" y1="299.60" x2="145.60" y2="302.40" stroke="#5a5a5a" stroke-width="0.9"/>
<line x1="179.90" y1="299.60" x2="179.90" y2="302.40" stroke="#5a5a5a" stroke-width="0.9"/>
<line x1="214.20" y1="299.60" x2="214.20" y2="302.40" stroke="#5a5a5a" stroke-width="0.9"/>
<line x1="248.50" y1="299.60" x2="248.50" y2="302.40" stroke="#5a5a5a" stroke-width="0.9"/>
<line x1="282.80" y1="299.60" x2="282.80" y2="302.40" stroke="#5a5a5a" stroke-width="0.9"/>
<line x1="317.10" y1="299.60" x2="317.10" y2="302.40" stroke="#5a5a5a" stroke-width="0.9"/>
<text x="42.70" y="311.20" font-size="7.4" text-anchor="middle" fill="#222" font-weight="normal">0</text>
<text x="77.00" y="311.20" font-size="7.4" text-anchor="middle" fill="#222" font-weight="normal">10</text>
<text x="111.30" y="311.20" font-size="7.4" text-anchor="middle" fill="#222" font-weight="normal">20</text>
<text x="145.60" y="311.20" font-size="7.4" text-anchor="middle" fill="#222" font-weight="normal">30</text>
<text x="179.90" y="311.20" font-size="7.4" text-anchor="middle" fill="#222" font-weight="normal">40</text>
<text x="214.20" y="311.20" font-size="7.4" text-anchor="middle" fill="#222" font-weight="normal">50</text>
<text x="248.50" y="311.20" font-size="7.4" text-anchor="middle" fill="#222" font-weight="normal">60</text>
<text x="282.80" y="311.20" font-size="7.4" text-anchor="middle" fill="#222" font-weight="normal">70</text>
<text x="317.10" y="311.20" font-size="7.4" text-anchor="middle" fill="#222" font-weight="normal">80</text>
<text x="175.30" y="321.40" font-size="7.4" text-anchor="middle" fill="#222" font-weight="normal">Position (MB)</text>
<path d="M116.80,187.77 L120.20,187.77 L118.50,190.83 Z" fill="#111"/>
<text x="59.80" y="213.00" font-size="7.4" text-anchor="start" fill="#222" font-weight="normal">TP53</text>
<path d="M68.50,213.71 L70.25,216.86 L66.75,216.86 Z" fill="#f3c9ce" stroke="#c86270" stroke-width="0.7"/>
<circle cx="67.90" cy="238.60" r="1.2" fill="#7d84a6" stroke="#3e4470" stroke-width="0.85"/>
<circle cx="67.90" cy="243.20" r="1.2" fill="#7d84a6" stroke="#3e4470" stroke-width="0.85"/>
<circle cx="67.90" cy="242.00" r="1.2" fill="#7d84a6" stroke="#3e4470" stroke-width="0.85"/>
<circle cx="67.90" cy="254.40" r="1.2" fill="#7d84a6" stroke="#3e4470" stroke-width="0.85"/>
<circle cx="48.30" cy="261.20" r="1.2" fill="#7d84a6" stroke="#3e4470" stroke-width="0.85"/>
<circle cx="53.10" cy="259.80" r="1.2" fill="#7d84a6" stroke="#3e4470" stroke-width="0.85"/>
<circle cx="67.90" cy="261.20" r="1.2" fill="#7d84a6" stroke="#3e4470" stroke-width="0.85"/>
<circle cx="71.30" cy="258.80" r="1.2" fill="#7d84a6" stroke="#3e4470" stroke-width="0.85"/>
<circle cx="78.50" cy="259.20" r="1.2" fill="#7d84a6" stroke="#3e4470" stroke-width="0.85"/>
<circle cx="82.70" cy="263.10" r="1.2" fill="#7d84a6" stroke="#3e4470" stroke-width="0.85"/>
<circle cx="97.30" cy="263.10" r="1.2" fill="#7d84a6" stroke="#3e4470" stroke-width="0.85"/>
<circle cx="53.50" cy="266.00" r="1.2" fill="#7d84a6" stroke="#3e4470" stroke-width="0.85"/>
<circle cx="57.90" cy="264.00" r="1.2" fill="#7d84a6" stroke="#3e4470" stroke-width="0.85"/>
<circle cx="59.20" cy="266.00" r="1.2" fill="#7d84a6" stroke="#3e4470" stroke-width="0.85"/>
<circle cx="59.80" cy="266.90" r="1.2" fill="#7d84a6" stroke="#3e4470" stroke-width="0.85"/>
<circle cx="70.80" cy="264.00" r="1.2" fill="#7d84a6" stroke="#3e4470" stroke-width="0.85"/>
<circle cx="68.80" cy="263.10" r="1.2" fill="#7d84a6" stroke="#3e4470" stroke-width="0.85"/>
<circle cx="78.50" cy="265.60" r="1.2" fill="#7d84a6" stroke="#3e4470" stroke-width="0.85"/>
<circle cx="56.00" cy="270.40" r="1.2" fill="#7d84a6" stroke="#3e4470" stroke-width="0.85"/>
<circle cx="64.40" cy="272.30" r="1.2" fill="#7d84a6" stroke="#3e4470" stroke-width="0.85"/>
<circle cx="78.50" cy="271.70" r="1.2" fill="#7d84a6" stroke="#3e4470" stroke-width="0.85"/>
<circle cx="79.40" cy="271.70" r="1.2" fill="#7d84a6" stroke="#3e4470" stroke-width="0.85"/>
<circle cx="50.60" cy="281.90" r="1.2" fill="#7d84a6" stroke="#3e4470" stroke-width="0.85"/>
<circle cx="70.40" cy="279.40" r="1.2" fill="#7d84a6" stroke="#3e4470" stroke-width="0.85"/>
<circle cx="70.80" cy="281.30" r="1.2" fill="#7d84a6" stroke="#3e4470" stroke-width="0.85"/>
<circle cx="70.80" cy="283.30" r="1.2" fill="#7d84a6" stroke="#3e4470" stroke-width="0.85"/>
<circle cx="105.00" cy="266.00" r="1.2" fill="#d6a84e" opacity="0.9"/>
<circle cx="110.20" cy="265.00" r="1.2" fill="#d6a84e" opacity="0.9"/>
<circle cx="124.60" cy="272.70" r="1.2" fill="#d6a84e" opacity="0.9"/>
<circle cx="125.60" cy="277.50" r="1.2" fill="#d6a84e" opacity="0.9"/>
<circle cx="133.80" cy="269.80" r="1.2" fill="#d6a84e" opacity="0.9"/>
<circle cx="149.20" cy="267.50" r="1.2" fill="#d6a84e" opacity="0.9"/>
<circle cx="155.60" cy="272.70" r="1.2" fill="#d6a84e" opacity="0.9"/>
<circle cx="162.30" cy="258.30" r="1.2" fill="#d6a84e" opacity="0.9"/>
<circle cx="163.70" cy="261.20" r="1.2" fill="#d6a84e" opacity="0.9"/>
<circle cx="165.60" cy="267.90" r="1.2" fill="#d6a84e" opacity="0.9"/>
<circle cx="168.50" cy="269.80" r="1.2" fill="#d6a84e" opacity="0.9"/>
<circle cx="171.30" cy="266.90" r="1.2" fill="#d6a84e" opacity="0.9"/>
<circle cx="167.50" cy="282.70" r="1.2" fill="#d6a84e" opacity="0.9"/>
<circle cx="171.30" cy="274.60" r="1.2" fill="#d6a84e" opacity="0.9"/>
<circle cx="176.20" cy="263.10" r="1.2" fill="#d6a84e" opacity="0.9"/>
<circle cx="181.00" cy="264.60" r="1.2" fill="#d6a84e" opacity="0.9"/>
<circle cx="180.40" cy="270.80" r="1.2" fill="#d6a84e" opacity="0.9"/>
<circle cx="189.60" cy="269.80" r="1.2" fill="#d6a84e" opacity="0.9"/>
<circle cx="191.90" cy="243.50" r="1.2" fill="#d6a84e" opacity="0.9"/>
<circle cx="191.20" cy="259.20" r="1.2" fill="#d6a84e" opacity="0.9"/>
<circle cx="196.30" cy="255.40" r="1.2" fill="#d6a84e" opacity="0.9"/>
<circle cx="198.30" cy="263.50" r="1.2" fill="#d6a84e" opacity="0.9"/>
<circle cx="200.20" cy="265.00" r="1.2" fill="#d6a84e" opacity="0.9"/>
<circle cx="227.30" cy="255.80" r="1.2" fill="#d6a84e" opacity="0.9"/>
<circle cx="227.30" cy="262.70" r="1.2" fill="#d6a84e" opacity="0.9"/>
<circle cx="233.10" cy="254.40" r="1.2" fill="#d6a84e" opacity="0.9"/>
<circle cx="233.10" cy="265.40" r="1.2" fill="#d6a84e" opacity="0.9"/>
<circle cx="238.30" cy="261.50" r="1.2" fill="#d6a84e" opacity="0.9"/>
<circle cx="245.00" cy="267.90" r="1.2" fill="#d6a84e" opacity="0.9"/>
<circle cx="246.50" cy="267.90" r="1.2" fill="#d6a84e" opacity="0.9"/>
<circle cx="241.20" cy="274.20" r="1.2" fill="#d6a84e" opacity="0.9"/>
<circle cx="256.50" cy="264.60" r="1.2" fill="#d6a84e" opacity="0.9"/>
<circle cx="260.00" cy="267.30" r="1.2" fill="#d6a84e" opacity="0.9"/>
<circle cx="264.80" cy="277.10" r="1.2" fill="#d6a84e" opacity="0.9"/>
<circle cx="284.00" cy="248.70" r="1.2" fill="#d6a84e" opacity="0.9"/>
<circle cx="286.30" cy="249.60" r="1.2" fill="#d6a84e" opacity="0.9"/>
<circle cx="284.40" cy="257.70" r="1.2" fill="#d6a84e" opacity="0.9"/>
<circle cx="289.20" cy="255.40" r="1.2" fill="#d6a84e" opacity="0.9"/>
<circle cx="295.40" cy="256.90" r="1.2" fill="#d6a84e" opacity="0.9"/>
<circle cx="298.50" cy="263.50" r="1.2" fill="#d6a84e" opacity="0.9"/>
<circle cx="298.50" cy="268.50" r="1.2" fill="#d6a84e" opacity="0.9"/>
<circle cx="301.70" cy="266.90" r="1.2" fill="#d6a84e" opacity="0.9"/>
<circle cx="306.20" cy="260.20" r="1.2" fill="#d6a84e" opacity="0.9"/>
<circle cx="306.20" cy="264.60" r="1.2" fill="#d6a84e" opacity="0.9"/>
<circle cx="309.40" cy="263.10" r="1.2" fill="#d6a84e" opacity="0.9"/>
<circle cx="310.40" cy="248.70" r="1.2" fill="#d6a84e" opacity="0.9"/>
<circle cx="284.40" cy="270.80" r="1.2" fill="#d6a84e" opacity="0.9"/>
<circle cx="288.30" cy="270.80" r="1.2" fill="#d6a84e" opacity="0.9"/>
<circle cx="286.30" cy="267.90" r="1.2" fill="#d6a84e" opacity="0.9"/>
<rect x="337.40" y="267.35" width="3.36" height="32.25" fill="#f4f4f4" stroke="#8a8a8a" stroke-width="0.8"/>
<rect x="344.12" y="256.60" width="3.37" height="43.00" fill="#f4f4f4" stroke="#8a8a8a" stroke-width="0.8"/>
<rect x="347.49" y="202.85" width="3.37" height="96.75" fill="#f4f4f4" stroke="#8a8a8a" stroke-width="0.8"/>
<rect x="350.86" y="245.85" width="3.37" height="53.75" fill="#f4f4f4" stroke="#8a8a8a" stroke-width="0.8"/>
<rect x="354.22" y="288.85" width="3.37" height="10.75" fill="#f4f4f4" stroke="#8a8a8a" stroke-width="0.8"/>
<rect x="360.95" y="267.35" width="3.36" height="32.25" fill="#f4f4f4" stroke="#8a8a8a" stroke-width="0.8"/>
<rect x="364.31" y="288.85" width="3.37" height="10.75" fill="#f4f4f4" stroke="#8a8a8a" stroke-width="0.8"/>
<rect x="377.78" y="288.85" width="3.37" height="10.75" fill="#f4f4f4" stroke="#8a8a8a" stroke-width="0.8"/>
<rect x="327.3" y="192.2" width="67.30000000000001" height="107.40000000000003" fill="none" stroke="#8c8c8c" stroke-width="1.0"/>
<line x1="327.30" y1="299.60" x2="327.30" y2="302.40" stroke="#5a5a5a" stroke-width="0.9"/>
<line x1="334.03" y1="299.60" x2="334.03" y2="302.40" stroke="#5a5a5a" stroke-width="0.9"/>
<line x1="340.76" y1="299.60" x2="340.76" y2="302.40" stroke="#5a5a5a" stroke-width="0.9"/>
<line x1="347.49" y1="299.60" x2="347.49" y2="302.40" stroke="#5a5a5a" stroke-width="0.9"/>
<line x1="354.22" y1="299.60" x2="354.22" y2="302.40" stroke="#5a5a5a" stroke-width="0.9"/>
<line x1="360.95" y1="299.60" x2="360.95" y2="302.40" stroke="#5a5a5a" stroke-width="0.9"/>
<line x1="367.68" y1="299.60" x2="367.68" y2="302.40" stroke="#5a5a5a" stroke-width="0.9"/>
<line x1="374.41" y1="299.60" x2="374.41" y2="302.40" stroke="#5a5a5a" stroke-width="0.9"/>
<line x1="381.14" y1="299.60" x2="381.14" y2="302.40" stroke="#5a5a5a" stroke-width="0.9"/>
<line x1="387.87" y1="299.60" x2="387.87" y2="302.40" stroke="#5a5a5a" stroke-width="0.9"/>
<line x1="394.60" y1="299.60" x2="394.60" y2="302.40" stroke="#5a5a5a" stroke-width="0.9"/>
<text x="327.30" y="311.20" font-size="7.4" text-anchor="middle" fill="#222" font-weight="normal">0</text>
<text x="360.95" y="311.20" font-size="7.4" text-anchor="middle" fill="#222" font-weight="normal">0.5</text>
<text x="394.60" y="311.20" font-size="7.4" text-anchor="middle" fill="#222" font-weight="normal">1</text>
<text x="361.00" y="321.40" font-size="7.4" text-anchor="middle" fill="#222" font-weight="normal">Allele frequency</text>
<line x1="394.6" y1="299.60" x2="397.40000000000003" y2="299.60" stroke="#5a5a5a" stroke-width="0.9"/>
<text x="405.50" y="299.60" font-size="7.0" text-anchor="middle" fill="#222" font-weight="normal" transform="rotate(-90 405.5 299.6)">0</text>
<line x1="394.6" y1="278.10" x2="397.40000000000003" y2="278.10" stroke="#5a5a5a" stroke-width="0.9"/>
<text x="405.50" y="278.10" font-size="7.0" text-anchor="middle" fill="#222" font-weight="normal" transform="rotate(-90 405.5 278.1)">2</text>
<line x1="394.6" y1="256.60" x2="397.40000000000003" y2="256.60" stroke="#5a5a5a" stroke-width="0.9"/>
<text x="405.50" y="256.60" font-size="7.0" text-anchor="middle" fill="#222" font-weight="normal" transform="rotate(-90 405.5 256.6)">4</text>
<line x1="394.6" y1="235.10" x2="397.40000000000003" y2="235.10" stroke="#5a5a5a" stroke-width="0.9"/>
<text x="405.50" y="235.10" font-size="7.0" text-anchor="middle" fill="#222" font-weight="normal" transform="rotate(-90 405.5 235.10000000000002)">6</text>
<line x1="394.6" y1="213.60" x2="397.40000000000003" y2="213.60" stroke="#5a5a5a" stroke-width="0.9"/>
<text x="405.50" y="213.60" font-size="7.0" text-anchor="middle" fill="#222" font-weight="normal" transform="rotate(-90 405.5 213.60000000000002)">8</text>
<text x="415.70" y="247.00" font-size="7.4" text-anchor="middle" fill="#222" font-weight="normal" transform="rotate(-90 415.7 247.0)">Counts</text>
<rect x="382" y="290" width="18" height="7" fill="#fff"/>
<text x="382.60" y="296.30" font-size="6.9" text-anchor="start" fill="#222" font-weight="normal">TP53</text>
<path d="M379.2,293.6 L382.4,293.6 L380.8,299.3 Z" fill="#111"/>
<text transform="translate(0.6,333.6) scale(0.78,1)" font-size="9.9" font-weight="bold" fill="#111">C</text>
<text x="45.30" y="341.30" font-size="7.45" text-anchor="start" fill="#222" font-weight="normal">cSCC #1, Chromosome 2</text>
<g fill="#8a8a96" opacity="0.2"><circle cx="283.2" cy="344.9" r="1.25"/><circle cx="66.0" cy="344.2" r="1.25"/><circle cx="236.1" cy="345.9" r="1.25"/><circle cx="51.1" cy="344.5" r="1.25"/><circle cx="96.1" cy="345.4" r="1.25"/><circle cx="300.0" cy="344.2" r="1.25"/><circle cx="242.7" cy="345.4" r="1.25"/><circle cx="88.2" cy="344.2" r="1.25"/><circle cx="303.6" cy="346.7" r="1.25"/><circle cx="244.9" cy="344.2" r="1.25"/><circle cx="295.4" cy="344.2" r="1.25"/><circle cx="151.7" cy="345.1" r="1.25"/><circle cx="68.9" cy="344.4" r="1.25"/><circle cx="257.9" cy="346.0" r="1.25"/><circle cx="188.8" cy="344.2" r="1.25"/><circle cx="111.5" cy="344.8" r="1.25"/><circle cx="57.2" cy="344.3" r="1.25"/><circle cx="54.7" cy="344.2" r="1.25"/><circle cx="131.9" cy="346.7" r="1.25"/><circle cx="83.4" cy="344.5" r="1.25"/><circle cx="240.3" cy="345.4" r="1.25"/><circle cx="229.2" cy="344.2" r="1.25"/><circle cx="86.5" cy="345.0" r="1.25"/><circle cx="242.0" cy="344.3" r="1.25"/><circle cx="157.5" cy="347.2" r="1.25"/><circle cx="108.2" cy="344.2" r="1.25"/><circle cx="126.3" cy="345.8" r="1.25"/><circle cx="57.2" cy="344.5" r="1.25"/><circle cx="52.7" cy="346.4" r="1.25"/><circle cx="268.4" cy="346.5" r="1.25"/><circle cx="314.3" cy="345.8" r="1.25"/><circle cx="298.7" cy="344.2" r="1.25"/><circle cx="105.5" cy="346.0" r="1.25"/><circle cx="308.7" cy="347.0" r="1.25"/><circle cx="284.8" cy="345.1" r="1.25"/><circle cx="70.7" cy="344.2" r="1.25"/><circle cx="163.6" cy="345.6" r="1.25"/><circle cx="151.4" cy="345.0" r="1.25"/><circle cx="136.3" cy="346.3" r="1.25"/><circle cx="89.6" cy="345.3" r="1.25"/><circle cx="156.7" cy="346.0" r="1.25"/><circle cx="228.9" cy="345.2" r="1.25"/><circle cx="111.9" cy="344.3" r="1.25"/><circle cx="162.1" cy="344.6" r="1.25"/><circle cx="87.5" cy="347.0" r="1.25"/><circle cx="198.1" cy="346.3" r="1.25"/><circle cx="238.6" cy="344.2" r="1.25"/><circle cx="146.2" cy="345.1" r="1.25"/><circle cx="63.3" cy="345.6" r="1.25"/><circle cx="182.3" cy="345.0" r="1.25"/><circle cx="207.1" cy="346.4" r="1.25"/><circle cx="115.7" cy="345.1" r="1.25"/><circle cx="52.5" cy="346.8" r="1.25"/><circle cx="201.6" cy="344.2" r="1.25"/><circle cx="118.0" cy="345.7" r="1.25"/><circle cx="175.0" cy="346.0" r="1.25"/><circle cx="215.2" cy="344.2" r="1.25"/><circle cx="204.4" cy="345.6" r="1.25"/><circle cx="305.2" cy="345.0" r="1.25"/><circle cx="216.7" cy="347.1" r="1.25"/><circle cx="159.0" cy="346.2" r="1.25"/><circle cx="274.1" cy="344.7" r="1.25"/><circle cx="287.9" cy="347.4" r="1.25"/><circle cx="56.5" cy="344.2" r="1.25"/><circle cx="83.4" cy="346.4" r="1.25"/><circle cx="145.1" cy="345.3" r="1.25"/><circle cx="314.7" cy="344.8" r="1.25"/><circle cx="108.8" cy="344.6" r="1.25"/><circle cx="233.0" cy="345.3" r="1.25"/><circle cx="195.5" cy="345.2" r="1.25"/><circle cx="154.3" cy="345.2" r="1.25"/><circle cx="224.8" cy="344.2" r="1.25"/><circle cx="196.7" cy="346.4" r="1.25"/><circle cx="274.6" cy="346.4" r="1.25"/><circle cx="312.4" cy="345.9" r="1.25"/><circle cx="289.7" cy="344.2" r="1.25"/><circle cx="132.2" cy="345.7" r="1.25"/><circle cx="234.8" cy="347.2" r="1.25"/><circle cx="311.1" cy="344.9" r="1.25"/><circle cx="216.9" cy="346.0" r="1.25"/><circle cx="180.9" cy="346.4" r="1.25"/><circle cx="124.6" cy="345.8" r="1.25"/><circle cx="252.0" cy="346.2" r="1.25"/><circle cx="114.6" cy="345.5" r="1.25"/><circle cx="135.4" cy="344.6" r="1.25"/><circle cx="80.6" cy="344.2" r="1.25"/><circle cx="63.4" cy="344.7" r="1.25"/><circle cx="239.8" cy="345.0" r="1.25"/><circle cx="77.0" cy="347.4" r="1.25"/><circle cx="178.2" cy="344.6" r="1.25"/><circle cx="90.7" cy="344.2" r="1.25"/><circle cx="60.7" cy="347.2" r="1.25"/><circle cx="115.8" cy="347.6" r="1.25"/><circle cx="153.9" cy="345.4" r="1.25"/><circle cx="242.9" cy="345.3" r="1.25"/><circle cx="135.9" cy="344.2" r="1.25"/><circle cx="137.8" cy="345.1" r="1.25"/><circle cx="273.8" cy="347.7" r="1.25"/><circle cx="202.1" cy="347.0" r="1.25"/><circle cx="217.3" cy="344.3" r="1.25"/><circle cx="274.5" cy="345.1" r="1.25"/><circle cx="149.7" cy="345.9" r="1.25"/><circle cx="230.1" cy="345.2" r="1.25"/><circle cx="49.8" cy="344.5" r="1.25"/><circle cx="207.0" cy="344.2" r="1.25"/><circle cx="82.8" cy="346.5" r="1.25"/><circle cx="235.1" cy="346.9" r="1.25"/><circle cx="155.1" cy="344.4" r="1.25"/><circle cx="302.7" cy="344.9" r="1.25"/><circle cx="242.1" cy="345.3" r="1.25"/><circle cx="78.6" cy="344.3" r="1.25"/><circle cx="247.1" cy="345.0" r="1.25"/><circle cx="319.2" cy="344.4" r="1.25"/><circle cx="53.3" cy="344.5" r="1.25"/><circle cx="195.2" cy="346.5" r="1.25"/><circle cx="131.0" cy="345.1" r="1.25"/><circle cx="266.1" cy="344.7" r="1.25"/><circle cx="153.7" cy="346.2" r="1.25"/><circle cx="215.9" cy="344.9" r="1.25"/><circle cx="153.1" cy="348.9" r="1.25"/><circle cx="236.9" cy="347.5" r="1.25"/><circle cx="86.4" cy="345.9" r="1.25"/><circle cx="94.1" cy="344.2" r="1.25"/><circle cx="115.1" cy="344.2" r="1.25"/><circle cx="180.3" cy="344.4" r="1.25"/><circle cx="51.3" cy="344.5" r="1.25"/><circle cx="201.6" cy="344.2" r="1.25"/><circle cx="121.4" cy="344.2" r="1.25"/><circle cx="108.6" cy="346.5" r="1.25"/><circle cx="117.4" cy="345.1" r="1.25"/><circle cx="60.1" cy="344.2" r="1.25"/><circle cx="131.1" cy="344.2" r="1.25"/><circle cx="67.6" cy="344.7" r="1.25"/><circle cx="320.2" cy="344.2" r="1.25"/><circle cx="101.6" cy="344.3" r="1.25"/><circle cx="160.0" cy="346.4" r="1.25"/><circle cx="267.9" cy="345.6" r="1.25"/><circle cx="197.4" cy="345.0" r="1.25"/><circle cx="226.6" cy="346.0" r="1.25"/><circle cx="304.2" cy="346.0" r="1.25"/><circle cx="283.8" cy="344.2" r="1.25"/><circle cx="275.3" cy="345.3" r="1.25"/><circle cx="245.4" cy="345.1" r="1.25"/><circle cx="92.4" cy="345.0" r="1.25"/><circle cx="78.7" cy="344.2" r="1.25"/><circle cx="253.2" cy="344.7" r="1.25"/><circle cx="131.3" cy="345.5" r="1.25"/><circle cx="103.8" cy="345.3" r="1.25"/><circle cx="309.8" cy="344.2" r="1.25"/><circle cx="268.8" cy="345.2" r="1.25"/><circle cx="263.9" cy="345.4" r="1.25"/><circle cx="266.8" cy="346.6" r="1.25"/><circle cx="273.6" cy="344.9" r="1.25"/><circle cx="73.7" cy="349.0" r="1.25"/><circle cx="307.4" cy="346.9" r="1.25"/><circle cx="114.9" cy="344.2" r="1.25"/><circle cx="296.2" cy="344.2" r="1.25"/><circle cx="108.5" cy="345.0" r="1.25"/><circle cx="152.8" cy="346.6" r="1.25"/><circle cx="269.0" cy="344.2" r="1.25"/><circle cx="146.3" cy="346.1" r="1.25"/><circle cx="122.8" cy="346.2" r="1.25"/><circle cx="294.9" cy="345.5" r="1.25"/><circle cx="138.1" cy="344.8" r="1.25"/><circle cx="249.9" cy="344.8" r="1.25"/><circle cx="196.2" cy="344.2" r="1.25"/><circle cx="233.1" cy="345.0" r="1.25"/><circle cx="85.3" cy="344.7" r="1.25"/><circle cx="142.3" cy="345.4" r="1.25"/><circle cx="184.2" cy="345.2" r="1.25"/><circle cx="156.9" cy="346.0" r="1.25"/><circle cx="307.9" cy="344.2" r="1.25"/><circle cx="102.3" cy="344.4" r="1.25"/><circle cx="253.4" cy="346.0" r="1.25"/><circle cx="75.8" cy="344.2" r="1.25"/><circle cx="310.7" cy="345.4" r="1.25"/><circle cx="106.4" cy="347.0" r="1.25"/><circle cx="94.9" cy="344.2" r="1.25"/><circle cx="121.2" cy="346.7" r="1.25"/><circle cx="134.6" cy="348.1" r="1.25"/><circle cx="96.4" cy="347.7" r="1.25"/><circle cx="86.7" cy="344.2" r="1.25"/><circle cx="220.5" cy="346.6" r="1.25"/><circle cx="104.4" cy="344.2" r="1.25"/><circle cx="215.5" cy="344.2" r="1.25"/><circle cx="218.9" cy="346.9" r="1.25"/><circle cx="184.8" cy="345.9" r="1.25"/><circle cx="276.3" cy="345.5" r="1.25"/><circle cx="235.7" cy="347.1" r="1.25"/><circle cx="161.3" cy="344.7" r="1.25"/><circle cx="151.8" cy="345.1" r="1.25"/><circle cx="203.5" cy="344.2" r="1.25"/><circle cx="187.7" cy="344.2" r="1.25"/><circle cx="168.9" cy="344.9" r="1.25"/><circle cx="209.2" cy="347.7" r="1.25"/><circle cx="87.8" cy="346.9" r="1.25"/><circle cx="174.9" cy="344.2" r="1.25"/><circle cx="132.1" cy="345.4" r="1.25"/><circle cx="248.6" cy="344.2" r="1.25"/><circle cx="284.6" cy="345.4" r="1.25"/><circle cx="80.8" cy="344.2" r="1.25"/><circle cx="110.4" cy="345.4" r="1.25"/><circle cx="277.1" cy="347.1" r="1.25"/><circle cx="274.1" cy="347.7" r="1.25"/><circle cx="265.4" cy="349.4" r="1.25"/><circle cx="63.8" cy="345.6" r="1.25"/><circle cx="285.3" cy="345.5" r="1.25"/><circle cx="268.0" cy="346.2" r="1.25"/><circle cx="170.9" cy="347.8" r="1.25"/><circle cx="99.9" cy="345.9" r="1.25"/><circle cx="122.9" cy="345.6" r="1.25"/><circle cx="198.6" cy="345.7" r="1.25"/><circle cx="262.5" cy="346.2" r="1.25"/><circle cx="266.0" cy="345.2" r="1.25"/><circle cx="281.1" cy="345.1" r="1.25"/><circle cx="295.1" cy="346.9" r="1.25"/><circle cx="265.1" cy="344.6" r="1.25"/><circle cx="73.6" cy="344.3" r="1.25"/><circle cx="56.1" cy="346.7" r="1.25"/><circle cx="275.3" cy="344.2" r="1.25"/><circle cx="78.3" cy="344.7" r="1.25"/><circle cx="279.5" cy="344.2" r="1.25"/><circle cx="215.7" cy="344.9" r="1.25"/><circle cx="317.7" cy="345.6" r="1.25"/><circle cx="102.9" cy="347.1" r="1.25"/><circle cx="246.1" cy="347.2" r="1.25"/><circle cx="100.2" cy="345.9" r="1.25"/><circle cx="50.2" cy="346.5" r="1.25"/><circle cx="139.4" cy="346.0" r="1.25"/><circle cx="122.6" cy="344.2" r="1.25"/><circle cx="211.8" cy="345.6" r="1.25"/><circle cx="81.2" cy="346.0" r="1.25"/><circle cx="236.8" cy="345.9" r="1.25"/><circle cx="77.9" cy="345.1" r="1.25"/><circle cx="304.8" cy="346.2" r="1.25"/><circle cx="99.9" cy="346.0" r="1.25"/><circle cx="319.6" cy="346.0" r="1.25"/><circle cx="145.1" cy="347.2" r="1.25"/><circle cx="131.3" cy="345.9" r="1.25"/><circle cx="219.6" cy="344.9" r="1.25"/><circle cx="162.8" cy="344.7" r="1.25"/><circle cx="171.6" cy="346.5" r="1.25"/><circle cx="185.3" cy="344.2" r="1.25"/><circle cx="239.5" cy="345.7" r="1.25"/><circle cx="110.6" cy="346.2" r="1.25"/><circle cx="286.0" cy="345.8" r="1.25"/><circle cx="124.8" cy="344.2" r="1.25"/><circle cx="171.1" cy="346.8" r="1.25"/><circle cx="302.8" cy="346.9" r="1.25"/><circle cx="211.3" cy="344.2" r="1.25"/><circle cx="169.3" cy="344.2" r="1.25"/><circle cx="123.4" cy="344.7" r="1.25"/><circle cx="167.2" cy="344.2" r="1.25"/><circle cx="237.1" cy="345.6" r="1.25"/><circle cx="230.8" cy="345.2" r="1.25"/><circle cx="82.3" cy="344.2" r="1.25"/><circle cx="292.2" cy="345.3" r="1.25"/><circle cx="139.9" cy="344.2" r="1.25"/><circle cx="271.6" cy="344.3" r="1.25"/><circle cx="196.1" cy="346.7" r="1.25"/></g>
<g fill="#666" opacity="0.22"><circle cx="58.0" cy="344.5" r="1.2"/><circle cx="57.9" cy="345.9" r="1.2"/><circle cx="59.4" cy="344.9" r="1.2"/><circle cx="60.8" cy="346.0" r="1.2"/><circle cx="62.0" cy="344.3" r="1.2"/><circle cx="57.6" cy="345.2" r="1.2"/><circle cx="74.8" cy="345.9" r="1.2"/><circle cx="74.8" cy="346.0" r="1.2"/><circle cx="75.9" cy="345.3" r="1.2"/><circle cx="77.4" cy="344.3" r="1.2"/><circle cx="77.5" cy="345.8" r="1.2"/><circle cx="76.6" cy="345.1" r="1.2"/><circle cx="89.0" cy="344.2" r="1.2"/><circle cx="85.8" cy="345.6" r="1.2"/><circle cx="87.5" cy="345.1" r="1.2"/><circle cx="86.6" cy="344.2" r="1.2"/><circle cx="86.5" cy="345.9" r="1.2"/><circle cx="86.2" cy="345.8" r="1.2"/><circle cx="101.2" cy="346.7" r="1.2"/><circle cx="98.3" cy="345.1" r="1.2"/><circle cx="100.6" cy="344.9" r="1.2"/><circle cx="98.8" cy="344.7" r="1.2"/><circle cx="101.2" cy="344.8" r="1.2"/><circle cx="98.1" cy="345.6" r="1.2"/><circle cx="117.6" cy="344.6" r="1.2"/><circle cx="122.2" cy="344.5" r="1.2"/><circle cx="117.6" cy="345.9" r="1.2"/><circle cx="120.2" cy="345.5" r="1.2"/><circle cx="118.1" cy="344.8" r="1.2"/><circle cx="119.0" cy="345.5" r="1.2"/><circle cx="144.1" cy="345.4" r="1.2"/><circle cx="144.1" cy="346.6" r="1.2"/><circle cx="146.1" cy="346.1" r="1.2"/><circle cx="147.4" cy="346.2" r="1.2"/><circle cx="145.6" cy="346.7" r="1.2"/><circle cx="144.6" cy="345.7" r="1.2"/><circle cx="175.3" cy="345.7" r="1.2"/><circle cx="176.8" cy="346.6" r="1.2"/><circle cx="176.8" cy="346.5" r="1.2"/><circle cx="177.4" cy="345.5" r="1.2"/><circle cx="174.5" cy="345.2" r="1.2"/><circle cx="176.8" cy="344.3" r="1.2"/><circle cx="199.6" cy="346.9" r="1.2"/><circle cx="198.3" cy="344.7" r="1.2"/><circle cx="201.2" cy="345.0" r="1.2"/><circle cx="198.3" cy="345.5" r="1.2"/><circle cx="197.6" cy="346.6" r="1.2"/><circle cx="199.0" cy="344.3" r="1.2"/><circle cx="222.7" cy="344.6" r="1.2"/><circle cx="219.7" cy="345.8" r="1.2"/><circle cx="219.9" cy="346.2" r="1.2"/><circle cx="220.1" cy="344.4" r="1.2"/><circle cx="221.1" cy="345.6" r="1.2"/><circle cx="222.8" cy="344.5" r="1.2"/><circle cx="242.2" cy="345.4" r="1.2"/><circle cx="240.0" cy="344.5" r="1.2"/><circle cx="239.5" cy="346.1" r="1.2"/><circle cx="241.2" cy="346.2" r="1.2"/><circle cx="239.3" cy="345.7" r="1.2"/><circle cx="239.9" cy="345.9" r="1.2"/><circle cx="261.7" cy="345.7" r="1.2"/><circle cx="259.7" cy="344.6" r="1.2"/><circle cx="259.8" cy="345.5" r="1.2"/><circle cx="262.2" cy="345.8" r="1.2"/><circle cx="260.6" cy="346.6" r="1.2"/><circle cx="261.4" cy="346.0" r="1.2"/><circle cx="289.9" cy="346.3" r="1.2"/><circle cx="291.2" cy="345.6" r="1.2"/><circle cx="287.5" cy="345.8" r="1.2"/><circle cx="292.3" cy="346.9" r="1.2"/><circle cx="290.5" cy="344.3" r="1.2"/><circle cx="289.3" cy="345.3" r="1.2"/><circle cx="304.3" cy="346.1" r="1.2"/><circle cx="305.5" cy="345.3" r="1.2"/><circle cx="304.1" cy="345.5" r="1.2"/><circle cx="305.1" cy="344.9" r="1.2"/><circle cx="302.8" cy="346.6" r="1.2"/><circle cx="303.8" cy="346.2" r="1.2"/></g>
<g fill="#8a8a96" opacity="0.12"><circle cx="135.1" cy="411.2" r="1.25"/><circle cx="91.1" cy="391.2" r="1.25"/><circle cx="78.0" cy="399.3" r="1.25"/><circle cx="156.2" cy="400.8" r="1.25"/><circle cx="139.1" cy="401.0" r="1.25"/><circle cx="137.8" cy="392.1" r="1.25"/><circle cx="134.3" cy="399.5" r="1.25"/><circle cx="131.5" cy="399.9" r="1.25"/><circle cx="51.4" cy="404.7" r="1.25"/><circle cx="149.9" cy="404.6" r="1.25"/><circle cx="117.5" cy="380.5" r="1.25"/><circle cx="130.3" cy="395.4" r="1.25"/><circle cx="110.9" cy="385.6" r="1.25"/><circle cx="92.9" cy="397.5" r="1.25"/><circle cx="122.1" cy="381.2" r="1.25"/><circle cx="54.4" cy="399.6" r="1.25"/><circle cx="133.5" cy="409.6" r="1.25"/><circle cx="88.3" cy="393.3" r="1.25"/><circle cx="96.1" cy="401.4" r="1.25"/><circle cx="81.8" cy="396.4" r="1.25"/><circle cx="128.3" cy="394.5" r="1.25"/><circle cx="139.4" cy="396.3" r="1.25"/><circle cx="120.6" cy="401.4" r="1.25"/><circle cx="59.3" cy="399.0" r="1.25"/><circle cx="80.7" cy="388.7" r="1.25"/><circle cx="149.3" cy="400.7" r="1.25"/><circle cx="69.6" cy="405.9" r="1.25"/><circle cx="140.0" cy="393.1" r="1.25"/><circle cx="59.8" cy="391.9" r="1.25"/><circle cx="49.5" cy="404.0" r="1.25"/><circle cx="94.4" cy="406.0" r="1.25"/><circle cx="150.0" cy="390.1" r="1.25"/><circle cx="101.3" cy="400.7" r="1.25"/><circle cx="133.2" cy="404.8" r="1.25"/><circle cx="57.8" cy="398.1" r="1.25"/><circle cx="111.6" cy="402.4" r="1.25"/><circle cx="68.6" cy="400.5" r="1.25"/><circle cx="85.2" cy="394.2" r="1.25"/><circle cx="112.2" cy="405.3" r="1.25"/><circle cx="110.3" cy="398.8" r="1.25"/><circle cx="140.3" cy="404.2" r="1.25"/><circle cx="99.8" cy="390.2" r="1.25"/><circle cx="155.8" cy="403.4" r="1.25"/><circle cx="72.2" cy="387.6" r="1.25"/><circle cx="75.3" cy="399.1" r="1.25"/><circle cx="74.8" cy="407.7" r="1.25"/><circle cx="53.2" cy="394.6" r="1.25"/><circle cx="126.2" cy="404.4" r="1.25"/><circle cx="94.5" cy="405.0" r="1.25"/><circle cx="155.3" cy="404.4" r="1.25"/><circle cx="147.9" cy="406.3" r="1.25"/><circle cx="71.9" cy="395.5" r="1.25"/><circle cx="130.4" cy="392.8" r="1.25"/><circle cx="140.9" cy="394.0" r="1.25"/><circle cx="49.9" cy="401.0" r="1.25"/><circle cx="107.8" cy="407.1" r="1.25"/><circle cx="83.3" cy="387.2" r="1.25"/><circle cx="131.6" cy="382.9" r="1.25"/><circle cx="136.2" cy="387.1" r="1.25"/><circle cx="70.5" cy="390.3" r="1.25"/><circle cx="68.3" cy="408.0" r="1.25"/><circle cx="59.5" cy="400.1" r="1.25"/><circle cx="131.7" cy="411.9" r="1.25"/><circle cx="149.5" cy="405.9" r="1.25"/><circle cx="123.2" cy="410.0" r="1.25"/><circle cx="126.5" cy="384.0" r="1.25"/><circle cx="78.6" cy="390.3" r="1.25"/><circle cx="75.6" cy="407.3" r="1.25"/><circle cx="73.9" cy="388.6" r="1.25"/><circle cx="74.4" cy="396.7" r="1.25"/><circle cx="78.8" cy="398.0" r="1.25"/><circle cx="100.3" cy="393.9" r="1.25"/><circle cx="76.5" cy="399.2" r="1.25"/><circle cx="103.0" cy="392.0" r="1.25"/><circle cx="143.9" cy="389.9" r="1.25"/><circle cx="141.7" cy="385.3" r="1.25"/><circle cx="114.3" cy="409.7" r="1.25"/><circle cx="105.9" cy="401.2" r="1.25"/><circle cx="119.9" cy="386.5" r="1.25"/><circle cx="75.1" cy="404.2" r="1.25"/><circle cx="52.1" cy="391.3" r="1.25"/><circle cx="134.2" cy="400.7" r="1.25"/><circle cx="72.1" cy="404.8" r="1.25"/><circle cx="127.7" cy="395.8" r="1.25"/><circle cx="151.7" cy="407.6" r="1.25"/><circle cx="85.1" cy="398.2" r="1.25"/><circle cx="72.0" cy="394.4" r="1.25"/><circle cx="151.3" cy="399.0" r="1.25"/><circle cx="119.6" cy="383.3" r="1.25"/><circle cx="57.4" cy="390.8" r="1.25"/><circle cx="109.3" cy="381.4" r="1.25"/><circle cx="80.6" cy="382.5" r="1.25"/><circle cx="143.7" cy="387.6" r="1.25"/><circle cx="53.6" cy="393.7" r="1.25"/><circle cx="49.3" cy="417.2" r="1.25"/><circle cx="122.7" cy="407.1" r="1.25"/><circle cx="141.8" cy="395.9" r="1.25"/><circle cx="54.6" cy="406.8" r="1.25"/><circle cx="105.0" cy="394.2" r="1.25"/><circle cx="85.7" cy="389.5" r="1.25"/><circle cx="101.9" cy="394.1" r="1.25"/><circle cx="92.7" cy="386.8" r="1.25"/><circle cx="100.4" cy="390.3" r="1.25"/><circle cx="108.4" cy="393.8" r="1.25"/><circle cx="154.9" cy="401.6" r="1.25"/><circle cx="79.6" cy="399.4" r="1.25"/><circle cx="83.6" cy="403.2" r="1.25"/><circle cx="155.3" cy="414.9" r="1.25"/><circle cx="152.4" cy="384.6" r="1.25"/><circle cx="150.7" cy="404.6" r="1.25"/><circle cx="48.3" cy="407.9" r="1.25"/><circle cx="122.8" cy="397.2" r="1.25"/><circle cx="114.6" cy="411.2" r="1.25"/><circle cx="55.7" cy="409.3" r="1.25"/><circle cx="104.2" cy="396.0" r="1.25"/><circle cx="58.5" cy="398.4" r="1.25"/><circle cx="143.3" cy="396.3" r="1.25"/><circle cx="49.6" cy="398.3" r="1.25"/><circle cx="138.9" cy="401.3" r="1.25"/><circle cx="111.0" cy="406.3" r="1.25"/><circle cx="130.8" cy="397.8" r="1.25"/><circle cx="53.6" cy="398.2" r="1.25"/><circle cx="134.9" cy="383.8" r="1.25"/><circle cx="91.7" cy="400.1" r="1.25"/><circle cx="83.6" cy="398.6" r="1.25"/><circle cx="132.3" cy="396.8" r="1.25"/><circle cx="75.4" cy="405.8" r="1.25"/><circle cx="83.6" cy="402.6" r="1.25"/><circle cx="121.6" cy="403.2" r="1.25"/><circle cx="144.8" cy="396.4" r="1.25"/><circle cx="65.7" cy="394.5" r="1.25"/><circle cx="99.6" cy="393.3" r="1.25"/><circle cx="133.8" cy="400.7" r="1.25"/><circle cx="119.3" cy="393.1" r="1.25"/><circle cx="75.1" cy="403.6" r="1.25"/><circle cx="144.2" cy="398.7" r="1.25"/><circle cx="66.7" cy="397.2" r="1.25"/><circle cx="82.9" cy="391.6" r="1.25"/><circle cx="127.4" cy="404.0" r="1.25"/><circle cx="106.5" cy="409.7" r="1.25"/></g>
<g fill="#8a8a96" opacity="0.08"><circle cx="54.8" cy="424.5" r="1.1"/><circle cx="73.4" cy="436.2" r="1.1"/><circle cx="92.4" cy="419.6" r="1.1"/><circle cx="87.5" cy="433.2" r="1.1"/><circle cx="148.0" cy="419.6" r="1.1"/><circle cx="89.4" cy="437.9" r="1.1"/><circle cx="134.4" cy="424.1" r="1.1"/><circle cx="83.9" cy="423.9" r="1.1"/><circle cx="88.5" cy="434.7" r="1.1"/><circle cx="112.4" cy="424.9" r="1.1"/><circle cx="99.3" cy="423.3" r="1.1"/><circle cx="47.6" cy="430.1" r="1.1"/><circle cx="88.6" cy="439.5" r="1.1"/><circle cx="148.4" cy="437.8" r="1.1"/><circle cx="69.0" cy="422.0" r="1.1"/><circle cx="153.6" cy="420.9" r="1.1"/><circle cx="84.3" cy="420.9" r="1.1"/><circle cx="61.9" cy="425.5" r="1.1"/><circle cx="151.9" cy="436.7" r="1.1"/><circle cx="61.2" cy="426.3" r="1.1"/><circle cx="144.8" cy="425.3" r="1.1"/><circle cx="152.3" cy="431.1" r="1.1"/><circle cx="87.7" cy="438.3" r="1.1"/><circle cx="76.6" cy="420.7" r="1.1"/><circle cx="54.0" cy="436.9" r="1.1"/><circle cx="84.9" cy="439.8" r="1.1"/><circle cx="80.4" cy="436.9" r="1.1"/><circle cx="59.8" cy="429.5" r="1.1"/><circle cx="106.5" cy="428.7" r="1.1"/><circle cx="131.4" cy="429.5" r="1.1"/></g>
<g fill="#8a8a96" opacity="0.15"><circle cx="312.4" cy="434.4" r="1.25"/><circle cx="170.5" cy="435.6" r="1.25"/><circle cx="208.4" cy="436.4" r="1.25"/><circle cx="240.1" cy="446.8" r="1.25"/><circle cx="184.1" cy="439.8" r="1.25"/><circle cx="206.0" cy="432.2" r="1.25"/><circle cx="287.2" cy="432.4" r="1.25"/><circle cx="256.3" cy="437.9" r="1.25"/><circle cx="295.9" cy="439.8" r="1.25"/><circle cx="311.9" cy="436.5" r="1.25"/><circle cx="317.4" cy="429.9" r="1.25"/><circle cx="223.3" cy="436.0" r="1.25"/><circle cx="166.5" cy="435.7" r="1.25"/><circle cx="278.0" cy="434.8" r="1.25"/><circle cx="192.5" cy="434.1" r="1.25"/><circle cx="288.3" cy="436.7" r="1.25"/><circle cx="239.4" cy="439.9" r="1.25"/><circle cx="187.8" cy="441.0" r="1.25"/><circle cx="160.5" cy="437.5" r="1.25"/><circle cx="200.5" cy="435.9" r="1.25"/><circle cx="258.9" cy="440.4" r="1.25"/><circle cx="259.7" cy="433.5" r="1.25"/><circle cx="209.7" cy="442.6" r="1.25"/><circle cx="252.7" cy="430.1" r="1.25"/><circle cx="226.0" cy="441.7" r="1.25"/><circle cx="212.2" cy="438.3" r="1.25"/><circle cx="306.9" cy="436.0" r="1.25"/><circle cx="297.0" cy="427.1" r="1.25"/><circle cx="301.8" cy="434.4" r="1.25"/><circle cx="318.5" cy="432.7" r="1.25"/><circle cx="205.1" cy="433.8" r="1.25"/><circle cx="196.3" cy="431.0" r="1.25"/><circle cx="253.1" cy="431.4" r="1.25"/><circle cx="204.3" cy="428.4" r="1.25"/><circle cx="173.8" cy="438.6" r="1.25"/><circle cx="249.2" cy="440.8" r="1.25"/><circle cx="239.0" cy="432.5" r="1.25"/><circle cx="219.8" cy="439.5" r="1.25"/><circle cx="158.3" cy="440.5" r="1.25"/><circle cx="251.6" cy="437.0" r="1.25"/><circle cx="261.0" cy="438.9" r="1.25"/><circle cx="239.1" cy="436.7" r="1.25"/><circle cx="236.5" cy="444.3" r="1.25"/><circle cx="203.7" cy="445.9" r="1.25"/><circle cx="230.2" cy="430.5" r="1.25"/><circle cx="196.2" cy="433.2" r="1.25"/><circle cx="293.1" cy="436.1" r="1.25"/><circle cx="305.2" cy="440.2" r="1.25"/><circle cx="240.1" cy="442.0" r="1.25"/><circle cx="312.2" cy="434.7" r="1.25"/><circle cx="237.8" cy="440.6" r="1.25"/><circle cx="295.1" cy="436.7" r="1.25"/><circle cx="240.0" cy="438.7" r="1.25"/><circle cx="193.1" cy="434.7" r="1.25"/><circle cx="294.0" cy="433.2" r="1.25"/><circle cx="307.5" cy="448.4" r="1.25"/><circle cx="269.7" cy="435.1" r="1.25"/><circle cx="290.0" cy="443.6" r="1.25"/><circle cx="288.6" cy="433.6" r="1.25"/><circle cx="207.4" cy="430.0" r="1.25"/><circle cx="197.8" cy="436.3" r="1.25"/><circle cx="241.4" cy="437.5" r="1.25"/><circle cx="213.9" cy="435.6" r="1.25"/><circle cx="306.5" cy="442.8" r="1.25"/><circle cx="310.0" cy="438.1" r="1.25"/><circle cx="266.8" cy="438.3" r="1.25"/><circle cx="175.8" cy="428.5" r="1.25"/><circle cx="208.6" cy="438.1" r="1.25"/><circle cx="188.3" cy="439.6" r="1.25"/><circle cx="318.6" cy="443.9" r="1.25"/><circle cx="259.5" cy="432.2" r="1.25"/><circle cx="167.5" cy="432.2" r="1.25"/><circle cx="299.4" cy="436.2" r="1.25"/><circle cx="300.4" cy="444.6" r="1.25"/><circle cx="250.8" cy="431.4" r="1.25"/><circle cx="238.2" cy="439.2" r="1.25"/><circle cx="220.7" cy="437.7" r="1.25"/><circle cx="184.2" cy="436.4" r="1.25"/><circle cx="287.7" cy="436.3" r="1.25"/><circle cx="284.4" cy="430.9" r="1.25"/><circle cx="271.2" cy="440.8" r="1.25"/><circle cx="202.5" cy="437.5" r="1.25"/><circle cx="188.5" cy="441.0" r="1.25"/><circle cx="311.6" cy="442.3" r="1.25"/><circle cx="211.9" cy="428.6" r="1.25"/><circle cx="205.4" cy="441.3" r="1.25"/><circle cx="313.2" cy="445.2" r="1.25"/><circle cx="284.2" cy="444.6" r="1.25"/><circle cx="212.3" cy="438.1" r="1.25"/><circle cx="237.5" cy="432.0" r="1.25"/><circle cx="163.8" cy="433.6" r="1.25"/><circle cx="235.1" cy="441.1" r="1.25"/><circle cx="279.4" cy="437.1" r="1.25"/><circle cx="252.7" cy="434.2" r="1.25"/><circle cx="197.3" cy="437.9" r="1.25"/><circle cx="166.5" cy="435.7" r="1.25"/><circle cx="215.9" cy="447.4" r="1.25"/><circle cx="262.3" cy="438.9" r="1.25"/><circle cx="225.5" cy="439.7" r="1.25"/><circle cx="235.2" cy="435.4" r="1.25"/><circle cx="314.3" cy="433.8" r="1.25"/><circle cx="269.8" cy="433.9" r="1.25"/><circle cx="282.3" cy="442.9" r="1.25"/><circle cx="311.0" cy="439.2" r="1.25"/><circle cx="305.1" cy="437.1" r="1.25"/><circle cx="320.6" cy="431.7" r="1.25"/><circle cx="244.0" cy="434.4" r="1.25"/><circle cx="167.3" cy="430.3" r="1.25"/><circle cx="182.5" cy="440.4" r="1.25"/><circle cx="275.3" cy="438.2" r="1.25"/><circle cx="276.5" cy="440.2" r="1.25"/><circle cx="263.6" cy="430.5" r="1.25"/><circle cx="273.1" cy="441.5" r="1.25"/><circle cx="175.4" cy="435.9" r="1.25"/><circle cx="235.4" cy="428.5" r="1.25"/><circle cx="167.1" cy="439.6" r="1.25"/><circle cx="169.6" cy="437.9" r="1.25"/><circle cx="229.3" cy="430.5" r="1.25"/><circle cx="178.8" cy="442.1" r="1.25"/><circle cx="279.3" cy="434.6" r="1.25"/><circle cx="223.7" cy="440.9" r="1.25"/><circle cx="258.4" cy="442.3" r="1.25"/><circle cx="165.6" cy="437.7" r="1.25"/><circle cx="166.9" cy="439.3" r="1.25"/><circle cx="235.2" cy="435.4" r="1.25"/><circle cx="221.7" cy="436.9" r="1.25"/><circle cx="234.4" cy="428.7" r="1.25"/><circle cx="296.9" cy="430.5" r="1.25"/><circle cx="237.3" cy="440.3" r="1.25"/><circle cx="318.3" cy="439.1" r="1.25"/><circle cx="177.5" cy="438.1" r="1.25"/><circle cx="299.1" cy="434.2" r="1.25"/><circle cx="240.9" cy="440.8" r="1.25"/><circle cx="302.6" cy="434.8" r="1.25"/><circle cx="200.0" cy="435.4" r="1.25"/><circle cx="231.1" cy="443.6" r="1.25"/><circle cx="217.6" cy="441.5" r="1.25"/><circle cx="209.4" cy="435.3" r="1.25"/><circle cx="259.7" cy="440.2" r="1.25"/><circle cx="284.0" cy="435.2" r="1.25"/><circle cx="232.2" cy="445.8" r="1.25"/><circle cx="232.1" cy="435.6" r="1.25"/><circle cx="219.3" cy="427.7" r="1.25"/><circle cx="286.1" cy="444.1" r="1.25"/><circle cx="223.4" cy="440.5" r="1.25"/><circle cx="206.3" cy="443.3" r="1.25"/><circle cx="276.0" cy="431.1" r="1.25"/><circle cx="267.0" cy="439.0" r="1.25"/><circle cx="228.9" cy="438.9" r="1.25"/><circle cx="283.6" cy="439.6" r="1.25"/><circle cx="245.9" cy="433.2" r="1.25"/><circle cx="274.0" cy="437.6" r="1.25"/><circle cx="160.7" cy="443.4" r="1.25"/><circle cx="200.3" cy="433.4" r="1.25"/><circle cx="258.0" cy="436.3" r="1.25"/><circle cx="320.0" cy="432.8" r="1.25"/><circle cx="190.1" cy="435.8" r="1.25"/><circle cx="253.0" cy="437.9" r="1.25"/><circle cx="291.9" cy="434.9" r="1.25"/><circle cx="254.2" cy="440.8" r="1.25"/><circle cx="274.1" cy="436.6" r="1.25"/><circle cx="252.4" cy="444.2" r="1.25"/><circle cx="199.0" cy="438.6" r="1.25"/><circle cx="246.7" cy="442.4" r="1.25"/><circle cx="318.9" cy="432.2" r="1.25"/><circle cx="210.9" cy="431.4" r="1.25"/><circle cx="276.4" cy="433.8" r="1.25"/><circle cx="250.4" cy="438.2" r="1.25"/><circle cx="244.1" cy="439.7" r="1.25"/><circle cx="260.0" cy="437.0" r="1.25"/><circle cx="303.6" cy="438.9" r="1.25"/><circle cx="289.4" cy="440.1" r="1.25"/><circle cx="226.5" cy="433.5" r="1.25"/><circle cx="233.0" cy="432.5" r="1.25"/><circle cx="244.4" cy="431.5" r="1.25"/><circle cx="313.4" cy="437.4" r="1.25"/><circle cx="215.5" cy="437.0" r="1.25"/><circle cx="207.0" cy="438.8" r="1.25"/><circle cx="270.8" cy="440.1" r="1.25"/><circle cx="220.0" cy="444.6" r="1.25"/><circle cx="202.6" cy="440.5" r="1.25"/><circle cx="161.9" cy="433.0" r="1.25"/><circle cx="219.0" cy="438.4" r="1.25"/><circle cx="208.7" cy="439.1" r="1.25"/><circle cx="300.2" cy="434.1" r="1.25"/><circle cx="187.0" cy="438.4" r="1.25"/><circle cx="177.2" cy="430.5" r="1.25"/><circle cx="278.5" cy="433.2" r="1.25"/><circle cx="201.1" cy="443.7" r="1.25"/><circle cx="162.6" cy="436.6" r="1.25"/><circle cx="291.5" cy="435.2" r="1.25"/><circle cx="272.7" cy="439.4" r="1.25"/><circle cx="272.0" cy="441.7" r="1.25"/><circle cx="193.6" cy="429.6" r="1.25"/><circle cx="235.2" cy="438.9" r="1.25"/><circle cx="290.4" cy="432.8" r="1.25"/><circle cx="250.9" cy="446.9" r="1.25"/><circle cx="194.4" cy="445.1" r="1.25"/><circle cx="194.3" cy="438.9" r="1.25"/><circle cx="315.2" cy="438.8" r="1.25"/></g>
<g fill="#8a8a96" opacity="0.12"><circle cx="213.6" cy="362.2" r="1.1"/><circle cx="228.3" cy="353.5" r="1.1"/><circle cx="307.2" cy="356.9" r="1.1"/><circle cx="185.9" cy="364.1" r="1.1"/><circle cx="273.1" cy="367.3" r="1.1"/><circle cx="301.9" cy="352.5" r="1.1"/><circle cx="194.9" cy="363.9" r="1.1"/><circle cx="195.3" cy="355.9" r="1.1"/><circle cx="165.7" cy="356.4" r="1.1"/><circle cx="168.2" cy="353.2" r="1.1"/><circle cx="246.5" cy="359.0" r="1.1"/><circle cx="173.5" cy="371.1" r="1.1"/><circle cx="215.6" cy="349.9" r="1.1"/><circle cx="255.8" cy="352.7" r="1.1"/><circle cx="168.2" cy="369.8" r="1.1"/><circle cx="161.4" cy="356.4" r="1.1"/><circle cx="186.8" cy="366.0" r="1.1"/><circle cx="266.7" cy="356.4" r="1.1"/><circle cx="210.6" cy="361.6" r="1.1"/><circle cx="205.1" cy="359.5" r="1.1"/><circle cx="216.0" cy="364.0" r="1.1"/><circle cx="198.6" cy="365.5" r="1.1"/><circle cx="200.5" cy="371.8" r="1.1"/><circle cx="208.6" cy="358.8" r="1.1"/><circle cx="201.8" cy="369.6" r="1.1"/><circle cx="295.9" cy="361.5" r="1.1"/><circle cx="241.4" cy="365.1" r="1.1"/><circle cx="302.6" cy="355.1" r="1.1"/><circle cx="259.5" cy="357.3" r="1.1"/><circle cx="270.9" cy="360.8" r="1.1"/><circle cx="225.3" cy="363.3" r="1.1"/><circle cx="240.2" cy="361.6" r="1.1"/><circle cx="244.2" cy="360.1" r="1.1"/><circle cx="286.5" cy="352.0" r="1.1"/><circle cx="194.5" cy="371.6" r="1.1"/><circle cx="207.1" cy="371.4" r="1.1"/><circle cx="287.8" cy="358.1" r="1.1"/><circle cx="204.5" cy="367.8" r="1.1"/><circle cx="299.6" cy="353.3" r="1.1"/><circle cx="269.4" cy="356.5" r="1.1"/><circle cx="279.4" cy="361.9" r="1.1"/><circle cx="222.8" cy="359.7" r="1.1"/><circle cx="301.5" cy="349.8" r="1.1"/><circle cx="307.5" cy="353.3" r="1.1"/><circle cx="170.1" cy="366.6" r="1.1"/><circle cx="316.3" cy="359.9" r="1.1"/><circle cx="241.9" cy="365.1" r="1.1"/><circle cx="298.5" cy="360.5" r="1.1"/><circle cx="319.4" cy="370.4" r="1.1"/><circle cx="319.9" cy="371.8" r="1.1"/><circle cx="182.2" cy="363.3" r="1.1"/><circle cx="262.2" cy="369.6" r="1.1"/><circle cx="249.7" cy="350.9" r="1.1"/><circle cx="229.0" cy="354.9" r="1.1"/><circle cx="254.5" cy="359.0" r="1.1"/><circle cx="186.2" cy="361.7" r="1.1"/><circle cx="304.8" cy="356.9" r="1.1"/><circle cx="193.3" cy="362.0" r="1.1"/><circle cx="246.6" cy="364.5" r="1.1"/><circle cx="252.2" cy="357.9" r="1.1"/><circle cx="160.9" cy="367.2" r="1.1"/><circle cx="265.0" cy="367.3" r="1.1"/><circle cx="169.9" cy="354.9" r="1.1"/><circle cx="212.4" cy="350.5" r="1.1"/><circle cx="249.1" cy="369.8" r="1.1"/><circle cx="261.8" cy="366.2" r="1.1"/><circle cx="290.8" cy="355.8" r="1.1"/><circle cx="281.6" cy="370.8" r="1.1"/><circle cx="163.6" cy="354.1" r="1.1"/><circle cx="180.9" cy="367.6" r="1.1"/><circle cx="162.9" cy="368.4" r="1.1"/><circle cx="235.2" cy="350.5" r="1.1"/><circle cx="210.4" cy="366.3" r="1.1"/><circle cx="293.0" cy="368.0" r="1.1"/><circle cx="261.5" cy="358.2" r="1.1"/><circle cx="310.5" cy="371.1" r="1.1"/><circle cx="249.8" cy="363.5" r="1.1"/><circle cx="292.3" cy="366.4" r="1.1"/><circle cx="274.5" cy="367.9" r="1.1"/><circle cx="238.7" cy="350.3" r="1.1"/><circle cx="197.1" cy="365.8" r="1.1"/><circle cx="307.6" cy="356.9" r="1.1"/><circle cx="168.7" cy="367.9" r="1.1"/><circle cx="196.7" cy="365.6" r="1.1"/><circle cx="295.7" cy="356.3" r="1.1"/><circle cx="317.7" cy="357.0" r="1.1"/><circle cx="260.3" cy="363.5" r="1.1"/><circle cx="274.9" cy="361.0" r="1.1"/><circle cx="167.6" cy="361.0" r="1.1"/><circle cx="220.6" cy="360.1" r="1.1"/></g>
<rect x="45.3" y="343.8" width="276.2" height="107.80000000000001" fill="none" stroke="#8c8c8c" stroke-width="1.0"/>
<line x1="45.5" y1="377.49" x2="321.5" y2="377.49" stroke="#9c9c9c" stroke-width="0.9" stroke-dasharray="2.2,2.65"/>
<line x1="45.5" y1="414.55" x2="321.5" y2="414.55" stroke="#b2b2ba" stroke-width="1.2"/>
<rect x="159" y="451.2" width="162.3" height="3.4" fill="#f4a7bd"/>
<line x1="42.099999999999994" y1="451.60" x2="45.3" y2="451.60" stroke="#5a5a5a" stroke-width="0.9"/>
<line x1="42.099999999999994" y1="440.86" x2="45.3" y2="440.86" stroke="#5a5a5a" stroke-width="0.9"/>
<line x1="42.099999999999994" y1="430.12" x2="45.3" y2="430.12" stroke="#5a5a5a" stroke-width="0.9"/>
<line x1="42.099999999999994" y1="419.38" x2="45.3" y2="419.38" stroke="#5a5a5a" stroke-width="0.9"/>
<line x1="42.099999999999994" y1="408.64" x2="45.3" y2="408.64" stroke="#5a5a5a" stroke-width="0.9"/>
<line x1="42.099999999999994" y1="397.90" x2="45.3" y2="397.90" stroke="#5a5a5a" stroke-width="0.9"/>
<line x1="42.099999999999994" y1="387.16" x2="45.3" y2="387.16" stroke="#5a5a5a" stroke-width="0.9"/>
<line x1="42.099999999999994" y1="376.42" x2="45.3" y2="376.42" stroke="#5a5a5a" stroke-width="0.9"/>
<line x1="42.099999999999994" y1="365.68" x2="45.3" y2="365.68" stroke="#5a5a5a" stroke-width="0.9"/>
<line x1="42.099999999999994" y1="354.94" x2="45.3" y2="354.94" stroke="#5a5a5a" stroke-width="0.9"/>
<line x1="42.099999999999994" y1="344.20" x2="45.3" y2="344.20" stroke="#5a5a5a" stroke-width="0.9"/>
<text x="39.40" y="451.60" font-size="7.4" text-anchor="middle" fill="#222" font-weight="normal" transform="rotate(-90 39.4 451.6)">0</text>
<text x="39.40" y="397.90" font-size="7.4" text-anchor="middle" fill="#222" font-weight="normal" transform="rotate(-90 39.4 397.90000000000003)">0.5</text>
<text x="39.40" y="344.20" font-size="7.4" text-anchor="middle" fill="#222" font-weight="normal" transform="rotate(-90 39.4 344.20000000000005)">1</text>
<text x="30.30" y="390.40" font-size="7.5" text-anchor="middle" fill="#222" font-weight="normal" transform="rotate(-90 30.3 390.4)">Allele frequency</text>
<line x1="45.30" y1="451.60" x2="45.30" y2="454.40" stroke="#5a5a5a" stroke-width="0.9"/>
<line x1="101.60" y1="451.60" x2="101.60" y2="454.40" stroke="#5a5a5a" stroke-width="0.9"/>
<line x1="157.90" y1="451.60" x2="157.90" y2="454.40" stroke="#5a5a5a" stroke-width="0.9"/>
<line x1="214.20" y1="451.60" x2="214.20" y2="454.40" stroke="#5a5a5a" stroke-width="0.9"/>
<line x1="270.50" y1="451.60" x2="270.50" y2="454.40" stroke="#5a5a5a" stroke-width="0.9"/>
<text x="45.30" y="462.60" font-size="7.4" text-anchor="middle" fill="#222" font-weight="normal">0</text>
<text x="101.60" y="462.60" font-size="7.4" text-anchor="middle" fill="#222" font-weight="normal">50</text>
<text x="157.90" y="462.60" font-size="7.4" text-anchor="middle" fill="#222" font-weight="normal">100</text>
<text x="214.20" y="462.60" font-size="7.4" text-anchor="middle" fill="#222" font-weight="normal">150</text>
<text x="270.50" y="462.60" font-size="7.4" text-anchor="middle" fill="#222" font-weight="normal">200</text>
<text x="178.00" y="472.20" font-size="7.4" text-anchor="middle" fill="#222" font-weight="normal">Position (MB)</text>
<path d="M149.20,340.47 L152.60,340.47 L150.90,343.53 Z" fill="#111"/>
<line x1="134.50" y1="358.00" x2="134.50" y2="361.50" stroke="#999" stroke-width="0.8"/>
<text x="172.90" y="370.00" font-size="7.4" text-anchor="start" fill="#222" font-weight="normal" stroke="#fff" stroke-width="1.6" paint-order="stroke" stroke-linejoin="round">GLI2</text>
<text x="148.30" y="392.00" font-size="7.3" text-anchor="start" fill="#222" font-weight="normal" stroke="#fff" stroke-width="1.6" paint-order="stroke" stroke-linejoin="round">IL1RL2</text>
<text x="213.80" y="362.10" font-size="7.4" text-anchor="start" fill="#222" font-weight="normal" stroke="#fff" stroke-width="1.6" paint-order="stroke" stroke-linejoin="round">TANC1</text>
<text x="288.50" y="357.30" font-size="7.4" text-anchor="start" fill="#222" font-weight="normal" stroke="#fff" stroke-width="1.6" paint-order="stroke" stroke-linejoin="round">COL4A4</text>
<text x="246.00" y="369.90" font-size="7.0" text-anchor="start" fill="#222" font-weight="normal" stroke="#fff" stroke-width="1.6" paint-order="stroke" stroke-linejoin="round">PLCL1</text>
<text x="216.80" y="380.10" font-size="7.1" text-anchor="start" fill="#222" font-weight="normal" stroke="#fff" stroke-width="1.6" paint-order="stroke" stroke-linejoin="round">IRH1</text>
<text x="233.70" y="383.90" font-size="7.5" text-anchor="start" fill="#222" font-weight="normal" stroke="#fff" stroke-width="1.6" paint-order="stroke" stroke-linejoin="round">LRP2</text>
<text x="280.00" y="376.70" font-size="6.5" text-anchor="start" fill="#222" font-weight="normal" stroke="#fff" stroke-width="1.6" paint-order="stroke" stroke-linejoin="round">C2orf57</text>
<text x="293.90" y="370.50" font-size="6.8" text-anchor="start" fill="#222" font-weight="normal" stroke="#fff" stroke-width="1.6" paint-order="stroke" stroke-linejoin="round">COL6A3</text>
<text x="301.50" y="382.90" font-size="6.6" text-anchor="start" fill="#222" font-weight="normal" stroke="#fff" stroke-width="1.6" paint-order="stroke" stroke-linejoin="round">ITM2C</text>
<text x="296.20" y="391.70" font-size="6.5" text-anchor="start" fill="#222" font-weight="normal" stroke="#fff" stroke-width="1.6" paint-order="stroke" stroke-linejoin="round">CAB39</text>
<path d="M182.50,370.71 L184.25,373.86 L180.75,373.86 Z" fill="#f3c9ce" stroke="#c25866" stroke-width="0.7"/>
<path d="M160.60,382.61 L162.35,385.76 L158.85,385.76 Z" fill="#f3c9ce" stroke="#c25866" stroke-width="0.7"/>
<path d="M225.90,362.95 L227.80,366.37 L224.00,366.37 Z" fill="#b5424c" stroke="#a83a44" stroke-width="0.7"/>
<path d="M229.50,370.11 L231.25,373.26 L227.75,373.26 Z" fill="#f3c9ce" stroke="#c25866" stroke-width="0.7"/>
<path d="M237.50,373.91 L239.25,377.06 L235.75,377.06 Z" fill="#f3c9ce" stroke="#c25866" stroke-width="0.7"/>
<path d="M270.50,365.61 L272.25,368.76 L268.75,368.76 Z" fill="#f3c9ce" stroke="#c25866" stroke-width="0.7"/>
<path d="M302.00,358.91 L303.75,362.06 L300.25,362.06 Z" fill="#f3c9ce" stroke="#c25866" stroke-width="0.7"/>
<path d="M307.70,372.25 L309.60,375.67 L305.80,375.67 Z" fill="#b5424c" stroke="#a83a44" stroke-width="0.7"/>
<path d="M315.10,372.91 L316.85,376.06 L313.35,376.06 Z" fill="#f3c9ce" stroke="#c25866" stroke-width="0.7"/>
<path d="M307.70,377.91 L309.45,381.06 L305.95,381.06 Z" fill="#f3c9ce" stroke="#c25866" stroke-width="0.7"/>
<circle cx="173.30" cy="408.90" r="1.2" fill="#7d84a6" stroke="#3e4470" stroke-width="0.85"/>
<circle cx="173.30" cy="414.50" r="1.2" fill="#7d84a6" stroke="#3e4470" stroke-width="0.85"/>
<circle cx="173.30" cy="419.60" r="1.2" fill="#7d84a6" stroke="#3e4470" stroke-width="0.85"/>
<circle cx="167.80" cy="416.50" r="1.2" fill="#7d84a6" stroke="#3e4470" stroke-width="0.85"/>
<circle cx="161.20" cy="428.40" r="1.2" fill="#7d84a6" stroke="#3e4470" stroke-width="0.85"/>
<circle cx="193.80" cy="405.60" r="1.2" fill="#7d84a6" stroke="#3e4470" stroke-width="0.85"/>
<circle cx="193.80" cy="413.00" r="1.2" fill="#7d84a6" stroke="#3e4470" stroke-width="0.85"/>
<circle cx="198.60" cy="427.40" r="1.2" fill="#7d84a6" stroke="#3e4470" stroke-width="0.85"/>
<circle cx="193.75" cy="405.75" r="1.2" fill="#7d84a6" stroke="#3e4470" stroke-width="0.85"/>
<circle cx="198.75" cy="427.00" r="1.2" fill="#7d84a6" stroke="#3e4470" stroke-width="0.85"/>
<circle cx="208.25" cy="423.25" r="1.2" fill="#7d84a6" stroke="#3e4470" stroke-width="0.85"/>
<circle cx="220.75" cy="415.50" r="1.2" fill="#7d84a6" stroke="#3e4470" stroke-width="0.85"/>
<circle cx="223.75" cy="412.00" r="1.2" fill="#7d84a6" stroke="#3e4470" stroke-width="0.85"/>
<circle cx="223.75" cy="425.00" r="1.2" fill="#7d84a6" stroke="#3e4470" stroke-width="0.85"/>
<circle cx="235.00" cy="415.00" r="1.2" fill="#7d84a6" stroke="#3e4470" stroke-width="0.85"/>
<circle cx="236.25" cy="415.50" r="1.2" fill="#7d84a6" stroke="#3e4470" stroke-width="0.85"/>
<circle cx="241.75" cy="420.75" r="1.2" fill="#7d84a6" stroke="#3e4470" stroke-width="0.85"/>
<circle cx="243.75" cy="414.25" r="1.2" fill="#7d84a6" stroke="#3e4470" stroke-width="0.85"/>
<circle cx="248.00" cy="411.75" r="1.2" fill="#7d84a6" stroke="#3e4470" stroke-width="0.85"/>
<circle cx="248.00" cy="416.25" r="1.2" fill="#7d84a6" stroke="#3e4470" stroke-width="0.85"/>
<circle cx="260.50" cy="414.50" r="1.2" fill="#7d84a6" stroke="#3e4470" stroke-width="0.85"/>
<circle cx="267.50" cy="402.50" r="1.2" fill="#7d84a6" stroke="#3e4470" stroke-width="0.85"/>
<circle cx="281.25" cy="413.75" r="1.2" fill="#7d84a6" stroke="#3e4470" stroke-width="0.85"/>
<circle cx="283.00" cy="409.00" r="1.2" fill="#7d84a6" stroke="#3e4470" stroke-width="0.85"/>
<circle cx="283.75" cy="422.50" r="1.2" fill="#7d84a6" stroke="#3e4470" stroke-width="0.85"/>
<circle cx="289.25" cy="416.25" r="1.2" fill="#7d84a6" stroke="#3e4470" stroke-width="0.85"/>
<circle cx="293.75" cy="410.00" r="1.2" fill="#7d84a6" stroke="#3e4470" stroke-width="0.85"/>
<circle cx="293.75" cy="413.00" r="1.2" fill="#7d84a6" stroke="#3e4470" stroke-width="0.85"/>
<circle cx="309.50" cy="405.50" r="1.2" fill="#7d84a6" stroke="#3e4470" stroke-width="0.85"/>
<circle cx="309.50" cy="417.50" r="1.2" fill="#7d84a6" stroke="#3e4470" stroke-width="0.85"/>
<circle cx="314.25" cy="427.00" r="1.2" fill="#7d84a6" stroke="#3e4470" stroke-width="0.85"/>
<circle cx="46.50" cy="401.10" r="1.2" fill="#d6a84e" opacity="0.9"/>
<circle cx="58.70" cy="401.70" r="1.2" fill="#d6a84e" opacity="0.9"/>
<circle cx="75.70" cy="405.80" r="1.2" fill="#d6a84e" opacity="0.9"/>
<circle cx="76.10" cy="404.40" r="1.2" fill="#d6a84e" opacity="0.9"/>
<circle cx="77.80" cy="396.00" r="1.2" fill="#d6a84e" opacity="0.9"/>
<circle cx="83.30" cy="409.30" r="1.2" fill="#d6a84e" opacity="0.9"/>
<circle cx="89.10" cy="404.20" r="1.2" fill="#d6a84e" opacity="0.9"/>
<circle cx="91.10" cy="412.00" r="1.2" fill="#d6a84e" opacity="0.9"/>
<circle cx="93.20" cy="405.80" r="1.2" fill="#d6a84e" opacity="0.9"/>
<circle cx="100.30" cy="409.30" r="1.2" fill="#d6a84e" opacity="0.9"/>
<circle cx="102.40" cy="408.90" r="1.2" fill="#d6a84e" opacity="0.9"/>
<circle cx="74.10" cy="416.70" r="1.2" fill="#d6a84e" opacity="0.9"/>
<circle cx="76.10" cy="417.10" r="1.2" fill="#d6a84e" opacity="0.9"/>
<circle cx="82.30" cy="417.50" r="1.2" fill="#d6a84e" opacity="0.9"/>
<circle cx="87.00" cy="417.50" r="1.2" fill="#d6a84e" opacity="0.9"/>
<circle cx="91.10" cy="419.20" r="1.2" fill="#d6a84e" opacity="0.9"/>
<circle cx="94.60" cy="419.20" r="1.2" fill="#d6a84e" opacity="0.9"/>
<circle cx="96.70" cy="424.90" r="1.2" fill="#d6a84e" opacity="0.9"/>
<circle cx="90.70" cy="428.00" r="1.2" fill="#d6a84e" opacity="0.9"/>
<circle cx="76.10" cy="431.50" r="1.2" fill="#d6a84e" opacity="0.9"/>
<circle cx="106.90" cy="417.10" r="1.2" fill="#d6a84e" opacity="0.9"/>
<circle cx="100.00" cy="408.90" r="1.2" fill="#d6a84e" opacity="0.9"/>
<circle cx="107.20" cy="417.10" r="1.2" fill="#d6a84e" opacity="0.9"/>
<circle cx="115.40" cy="400.30" r="1.2" fill="#d6a84e" opacity="0.9"/>
<circle cx="124.60" cy="412.00" r="1.2" fill="#d6a84e" opacity="0.9"/>
<circle cx="129.80" cy="421.20" r="1.2" fill="#d6a84e" opacity="0.9"/>
<circle cx="142.10" cy="417.50" r="1.2" fill="#d6a84e" opacity="0.9"/>
<circle cx="155.00" cy="412.00" r="1.2" fill="#d6a84e" opacity="0.9"/>
<circle cx="154.40" cy="424.70" r="1.2" fill="#d6a84e" opacity="0.9"/>
<circle cx="130.80" cy="422.30" r="1.2" fill="#d6a84e" opacity="0.9"/>
<rect x="343.40" y="412.44" width="3.38" height="39.16" fill="#f4f4f4" stroke="#8a8a8a" stroke-width="0.8"/>
<rect x="346.77" y="412.44" width="3.38" height="39.16" fill="#f4f4f4" stroke="#8a8a8a" stroke-width="0.8"/>
<rect x="350.15" y="353.70" width="3.38" height="97.90" fill="#f4f4f4" stroke="#8a8a8a" stroke-width="0.8"/>
<rect x="353.52" y="373.28" width="3.38" height="78.32" fill="#f4f4f4" stroke="#8a8a8a" stroke-width="0.8"/>
<rect x="356.90" y="432.02" width="3.38" height="19.58" fill="#f4f4f4" stroke="#8a8a8a" stroke-width="0.8"/>
<rect x="360.27" y="441.81" width="3.38" height="9.79" fill="#f4f4f4" stroke="#8a8a8a" stroke-width="0.8"/>
<rect x="370.40" y="432.02" width="3.38" height="19.58" fill="#f4f4f4" stroke="#8a8a8a" stroke-width="0.8"/>
<rect x="373.77" y="441.81" width="3.38" height="9.79" fill="#f4f4f4" stroke="#8a8a8a" stroke-width="0.8"/>
<rect x="377.15" y="392.86" width="3.38" height="58.74" fill="#f4f4f4" stroke="#8a8a8a" stroke-width="0.8"/>
<rect x="380.52" y="432.02" width="3.38" height="19.58" fill="#f4f4f4" stroke="#8a8a8a" stroke-width="0.8"/>
<rect x="383.90" y="432.02" width="3.38" height="19.58" fill="#f4f4f4" stroke="#8a8a8a" stroke-width="0.8"/>
<rect x="329.9" y="343.8" width="67.5" height="107.80000000000001" fill="none" stroke="#8c8c8c" stroke-width="1.0"/>
<line x1="329.90" y1="451.60" x2="329.90" y2="454.40" stroke="#5a5a5a" stroke-width="0.9"/>
<line x1="336.65" y1="451.60" x2="336.65" y2="454.40" stroke="#5a5a5a" stroke-width="0.9"/>
<line x1="343.40" y1="451.60" x2="343.40" y2="454.40" stroke="#5a5a5a" stroke-width="0.9"/>
<line x1="350.15" y1="451.60" x2="350.15" y2="454.40" stroke="#5a5a5a" stroke-width="0.9"/>
<line x1="356.90" y1="451.60" x2="356.90" y2="454.40" stroke="#5a5a5a" stroke-width="0.9"/>
<line x1="363.65" y1="451.60" x2="363.65" y2="454.40" stroke="#5a5a5a" stroke-width="0.9"/>
<line x1="370.40" y1="451.60" x2="370.40" y2="454.40" stroke="#5a5a5a" stroke-width="0.9"/>
<line x1="377.15" y1="451.60" x2="377.15" y2="454.40" stroke="#5a5a5a" stroke-width="0.9"/>
<line x1="383.90" y1="451.60" x2="383.90" y2="454.40" stroke="#5a5a5a" stroke-width="0.9"/>
<line x1="390.65" y1="451.60" x2="390.65" y2="454.40" stroke="#5a5a5a" stroke-width="0.9"/>
<line x1="397.40" y1="451.60" x2="397.40" y2="454.40" stroke="#5a5a5a" stroke-width="0.9"/>
<text x="329.90" y="462.60" font-size="7.4" text-anchor="middle" fill="#222" font-weight="normal">0</text>
<text x="363.65" y="462.60" font-size="7.4" text-anchor="middle" fill="#222" font-weight="normal">0.5</text>
<text x="397.40" y="462.60" font-size="7.4" text-anchor="middle" fill="#222" font-weight="normal">1</text>
<text x="363.60" y="472.20" font-size="7.4" text-anchor="middle" fill="#222" font-weight="normal">Allele frequency</text>
<line x1="397.4" y1="451.60" x2="400.2" y2="451.60" stroke="#5a5a5a" stroke-width="0.9"/>
<text x="406.70" y="451.60" font-size="7.0" text-anchor="middle" fill="#222" font-weight="normal" transform="rotate(-90 406.7 451.6)">0</text>
<line x1="397.4" y1="432.02" x2="400.2" y2="432.02" stroke="#5a5a5a" stroke-width="0.9"/>
<text x="406.70" y="432.02" font-size="7.0" text-anchor="middle" fill="#222" font-weight="normal" transform="rotate(-90 406.7 432.02000000000004)">2</text>
<line x1="397.4" y1="412.44" x2="400.2" y2="412.44" stroke="#5a5a5a" stroke-width="0.9"/>
<text x="406.70" y="412.44" font-size="7.0" text-anchor="middle" fill="#222" font-weight="normal" transform="rotate(-90 406.7 412.44000000000005)">4</text>
<line x1="397.4" y1="392.86" x2="400.2" y2="392.86" stroke="#5a5a5a" stroke-width="0.9"/>
<text x="406.70" y="392.86" font-size="7.0" text-anchor="middle" fill="#222" font-weight="normal" transform="rotate(-90 406.7 392.86)">6</text>
<line x1="397.4" y1="373.28" x2="400.2" y2="373.28" stroke="#5a5a5a" stroke-width="0.9"/>
<text x="406.70" y="373.28" font-size="7.0" text-anchor="middle" fill="#222" font-weight="normal" transform="rotate(-90 406.7 373.28000000000003)">8</text>
<line x1="397.4" y1="353.70" x2="400.2" y2="353.70" stroke="#5a5a5a" stroke-width="0.9"/>
<text x="406.70" y="353.70" font-size="7.0" text-anchor="middle" fill="#222" font-weight="normal" transform="rotate(-90 406.7 353.70000000000005)">10</text>
<text x="417.70" y="398.70" font-size="7.4" text-anchor="middle" fill="#222" font-weight="normal" transform="rotate(-90 417.7 398.7)">Counts</text>
<text transform="translate(0.8,489.6) scale(0.78,1)" font-size="9.9" font-weight="bold" fill="#111">D</text>
<text x="39.40" y="498.40" font-size="7.45" text-anchor="start" fill="#222" font-weight="normal">cSCC #1, Chromosome 14</text>
<g fill="#666" opacity="0.13"><circle cx="49.1" cy="521.6" r="1.2"/><circle cx="52.0" cy="515.4" r="1.2"/><circle cx="50.0" cy="519.4" r="1.2"/><circle cx="50.8" cy="505.6" r="1.2"/><circle cx="49.5" cy="513.1" r="1.2"/><circle cx="50.5" cy="508.3" r="1.2"/><circle cx="50.7" cy="517.8" r="1.2"/><circle cx="49.5" cy="509.0" r="1.2"/><circle cx="49.1" cy="506.5" r="1.2"/><circle cx="49.0" cy="518.7" r="1.2"/><circle cx="50.4" cy="506.9" r="1.2"/><circle cx="50.9" cy="508.7" r="1.2"/><circle cx="51.3" cy="509.1" r="1.2"/><circle cx="49.1" cy="507.2" r="1.2"/><circle cx="50.4" cy="519.2" r="1.2"/><circle cx="50.0" cy="521.6" r="1.2"/><circle cx="52.7" cy="515.2" r="1.2"/><circle cx="50.2" cy="521.3" r="1.2"/><circle cx="52.6" cy="511.3" r="1.2"/><circle cx="52.8" cy="521.4" r="1.2"/><circle cx="50.3" cy="516.9" r="1.2"/><circle cx="50.5" cy="520.1" r="1.2"/><circle cx="50.5" cy="510.6" r="1.2"/><circle cx="50.4" cy="519.1" r="1.2"/><circle cx="51.6" cy="515.3" r="1.2"/><circle cx="50.4" cy="511.9" r="1.2"/><circle cx="51.5" cy="515.1" r="1.2"/><circle cx="51.4" cy="521.4" r="1.2"/><circle cx="59.9" cy="518.6" r="1.2"/><circle cx="59.0" cy="521.9" r="1.2"/><circle cx="60.7" cy="511.5" r="1.2"/><circle cx="59.2" cy="512.3" r="1.2"/><circle cx="60.9" cy="519.7" r="1.2"/><circle cx="59.1" cy="509.3" r="1.2"/><circle cx="59.1" cy="509.4" r="1.2"/><circle cx="60.8" cy="521.4" r="1.2"/><circle cx="58.8" cy="516.8" r="1.2"/><circle cx="60.3" cy="508.0" r="1.2"/><circle cx="60.1" cy="505.4" r="1.2"/><circle cx="58.5" cy="515.0" r="1.2"/><circle cx="60.6" cy="508.3" r="1.2"/><circle cx="58.3" cy="504.4" r="1.2"/><circle cx="61.3" cy="506.5" r="1.2"/><circle cx="60.1" cy="511.2" r="1.2"/><circle cx="62.0" cy="505.9" r="1.2"/><circle cx="60.7" cy="506.0" r="1.2"/><circle cx="62.1" cy="507.0" r="1.2"/><circle cx="61.0" cy="504.8" r="1.2"/><circle cx="59.4" cy="514.8" r="1.2"/><circle cx="60.7" cy="519.7" r="1.2"/><circle cx="61.4" cy="521.0" r="1.2"/><circle cx="60.9" cy="517.1" r="1.2"/><circle cx="59.9" cy="511.2" r="1.2"/><circle cx="59.5" cy="514.0" r="1.2"/><circle cx="61.6" cy="504.3" r="1.2"/><circle cx="59.7" cy="515.5" r="1.2"/></g>
<g fill="#666" opacity="0.3"><circle cx="51.2" cy="506.0" r="1.2"/><circle cx="51.8" cy="506.0" r="1.2"/><circle cx="50.7" cy="505.5" r="1.2"/><circle cx="48.7" cy="506.7" r="1.2"/><circle cx="48.7" cy="505.5" r="1.2"/><circle cx="51.2" cy="503.0" r="1.2"/><circle cx="52.5" cy="506.5" r="1.2"/><circle cx="52.8" cy="505.9" r="1.2"/><circle cx="51.9" cy="504.0" r="1.2"/><circle cx="53.3" cy="503.2" r="1.2"/><circle cx="58.7" cy="505.5" r="1.2"/><circle cx="58.6" cy="505.6" r="1.2"/><circle cx="59.9" cy="505.0" r="1.2"/><circle cx="59.7" cy="506.2" r="1.2"/><circle cx="60.0" cy="503.1" r="1.2"/><circle cx="59.9" cy="504.4" r="1.2"/><circle cx="59.8" cy="506.6" r="1.2"/><circle cx="60.7" cy="506.0" r="1.2"/><circle cx="61.8" cy="504.6" r="1.2"/><circle cx="61.6" cy="503.1" r="1.2"/></g>
<g fill="#8a8a96" opacity="0.13"><circle cx="56.1" cy="504.1" r="1.25"/><circle cx="166.8" cy="504.3" r="1.25"/><circle cx="267.6" cy="505.7" r="1.25"/><circle cx="276.3" cy="507.0" r="1.25"/><circle cx="142.7" cy="503.0" r="1.25"/><circle cx="47.1" cy="503.0" r="1.25"/><circle cx="103.3" cy="503.4" r="1.25"/><circle cx="57.6" cy="504.4" r="1.25"/><circle cx="186.7" cy="503.0" r="1.25"/><circle cx="267.5" cy="503.0" r="1.25"/><circle cx="135.1" cy="503.0" r="1.25"/><circle cx="241.1" cy="503.0" r="1.25"/><circle cx="284.0" cy="507.2" r="1.25"/><circle cx="278.2" cy="505.5" r="1.25"/><circle cx="226.9" cy="503.0" r="1.25"/><circle cx="253.7" cy="504.9" r="1.25"/><circle cx="214.7" cy="504.9" r="1.25"/><circle cx="171.5" cy="504.5" r="1.25"/><circle cx="112.7" cy="506.6" r="1.25"/><circle cx="180.9" cy="506.1" r="1.25"/><circle cx="56.2" cy="503.0" r="1.25"/><circle cx="228.2" cy="503.0" r="1.25"/><circle cx="313.4" cy="504.1" r="1.25"/><circle cx="165.8" cy="506.3" r="1.25"/><circle cx="179.6" cy="503.9" r="1.25"/><circle cx="294.1" cy="506.6" r="1.25"/><circle cx="173.6" cy="506.5" r="1.25"/><circle cx="138.6" cy="503.1" r="1.25"/><circle cx="315.9" cy="503.0" r="1.25"/><circle cx="61.9" cy="504.0" r="1.25"/><circle cx="227.1" cy="503.9" r="1.25"/><circle cx="156.8" cy="503.6" r="1.25"/><circle cx="206.2" cy="504.4" r="1.25"/><circle cx="121.4" cy="506.9" r="1.25"/><circle cx="141.5" cy="503.5" r="1.25"/><circle cx="43.1" cy="505.5" r="1.25"/><circle cx="284.5" cy="505.7" r="1.25"/><circle cx="77.5" cy="504.5" r="1.25"/><circle cx="285.8" cy="504.6" r="1.25"/><circle cx="226.3" cy="505.4" r="1.25"/><circle cx="99.0" cy="507.3" r="1.25"/><circle cx="54.1" cy="503.6" r="1.25"/><circle cx="298.2" cy="505.2" r="1.25"/><circle cx="255.3" cy="503.6" r="1.25"/><circle cx="70.1" cy="503.0" r="1.25"/><circle cx="169.7" cy="503.9" r="1.25"/><circle cx="288.6" cy="504.2" r="1.25"/><circle cx="52.5" cy="506.0" r="1.25"/><circle cx="206.5" cy="506.4" r="1.25"/><circle cx="293.1" cy="504.3" r="1.25"/><circle cx="97.5" cy="505.1" r="1.25"/><circle cx="294.9" cy="505.2" r="1.25"/><circle cx="301.9" cy="506.0" r="1.25"/><circle cx="239.8" cy="505.9" r="1.25"/><circle cx="289.4" cy="504.4" r="1.25"/><circle cx="179.1" cy="505.2" r="1.25"/><circle cx="78.6" cy="509.6" r="1.25"/><circle cx="278.7" cy="506.1" r="1.25"/><circle cx="108.7" cy="506.4" r="1.25"/><circle cx="86.5" cy="505.2" r="1.25"/><circle cx="245.3" cy="504.5" r="1.25"/><circle cx="156.0" cy="506.5" r="1.25"/><circle cx="232.2" cy="504.9" r="1.25"/><circle cx="72.6" cy="506.9" r="1.25"/><circle cx="66.4" cy="503.0" r="1.25"/><circle cx="177.0" cy="503.0" r="1.25"/><circle cx="217.9" cy="505.9" r="1.25"/><circle cx="88.6" cy="503.1" r="1.25"/><circle cx="309.0" cy="505.5" r="1.25"/><circle cx="233.9" cy="505.3" r="1.25"/><circle cx="205.0" cy="507.4" r="1.25"/><circle cx="207.9" cy="507.0" r="1.25"/><circle cx="281.9" cy="503.0" r="1.25"/><circle cx="218.9" cy="505.0" r="1.25"/><circle cx="143.3" cy="506.3" r="1.25"/><circle cx="218.6" cy="503.5" r="1.25"/><circle cx="137.3" cy="507.1" r="1.25"/><circle cx="260.7" cy="503.0" r="1.25"/><circle cx="226.6" cy="503.4" r="1.25"/><circle cx="217.4" cy="506.3" r="1.25"/><circle cx="109.3" cy="505.0" r="1.25"/><circle cx="260.4" cy="503.7" r="1.25"/><circle cx="294.3" cy="505.3" r="1.25"/><circle cx="72.3" cy="503.0" r="1.25"/><circle cx="79.2" cy="507.5" r="1.25"/><circle cx="63.2" cy="508.0" r="1.25"/><circle cx="110.3" cy="504.5" r="1.25"/><circle cx="282.2" cy="506.1" r="1.25"/><circle cx="137.4" cy="506.0" r="1.25"/><circle cx="120.2" cy="504.4" r="1.25"/><circle cx="157.2" cy="505.2" r="1.25"/><circle cx="48.3" cy="503.0" r="1.25"/><circle cx="216.3" cy="504.0" r="1.25"/><circle cx="92.9" cy="506.4" r="1.25"/><circle cx="73.1" cy="503.0" r="1.25"/><circle cx="206.4" cy="503.0" r="1.25"/><circle cx="44.2" cy="507.3" r="1.25"/><circle cx="128.1" cy="503.8" r="1.25"/><circle cx="49.6" cy="506.3" r="1.25"/><circle cx="308.3" cy="503.6" r="1.25"/><circle cx="139.3" cy="503.0" r="1.25"/><circle cx="198.5" cy="506.6" r="1.25"/><circle cx="74.8" cy="504.3" r="1.25"/><circle cx="193.8" cy="505.5" r="1.25"/><circle cx="66.8" cy="503.0" r="1.25"/><circle cx="83.1" cy="503.4" r="1.25"/><circle cx="313.8" cy="508.6" r="1.25"/><circle cx="304.0" cy="506.7" r="1.25"/><circle cx="249.2" cy="506.1" r="1.25"/><circle cx="254.7" cy="506.5" r="1.25"/><circle cx="224.7" cy="503.2" r="1.25"/><circle cx="154.1" cy="503.0" r="1.25"/><circle cx="182.3" cy="505.3" r="1.25"/><circle cx="197.3" cy="507.8" r="1.25"/><circle cx="257.7" cy="504.2" r="1.25"/><circle cx="80.0" cy="505.4" r="1.25"/><circle cx="53.0" cy="503.0" r="1.25"/><circle cx="125.4" cy="503.0" r="1.25"/><circle cx="161.2" cy="507.3" r="1.25"/><circle cx="117.1" cy="504.0" r="1.25"/><circle cx="254.9" cy="506.6" r="1.25"/><circle cx="261.8" cy="503.0" r="1.25"/><circle cx="40.3" cy="505.5" r="1.25"/><circle cx="284.0" cy="504.9" r="1.25"/><circle cx="59.1" cy="505.0" r="1.25"/><circle cx="203.1" cy="503.0" r="1.25"/><circle cx="224.1" cy="506.8" r="1.25"/><circle cx="96.1" cy="503.3" r="1.25"/><circle cx="167.6" cy="504.7" r="1.25"/><circle cx="69.5" cy="503.0" r="1.25"/><circle cx="78.0" cy="503.7" r="1.25"/><circle cx="200.5" cy="503.0" r="1.25"/><circle cx="40.8" cy="503.0" r="1.25"/><circle cx="144.8" cy="504.9" r="1.25"/><circle cx="83.8" cy="503.0" r="1.25"/><circle cx="89.2" cy="509.8" r="1.25"/><circle cx="248.7" cy="503.0" r="1.25"/><circle cx="97.6" cy="509.1" r="1.25"/><circle cx="73.3" cy="503.8" r="1.25"/><circle cx="288.4" cy="503.3" r="1.25"/><circle cx="291.1" cy="505.7" r="1.25"/><circle cx="137.3" cy="504.4" r="1.25"/><circle cx="106.6" cy="506.6" r="1.25"/><circle cx="254.2" cy="507.3" r="1.25"/><circle cx="160.6" cy="506.9" r="1.25"/><circle cx="142.2" cy="504.0" r="1.25"/><circle cx="165.6" cy="505.9" r="1.25"/><circle cx="130.1" cy="507.7" r="1.25"/><circle cx="196.5" cy="504.2" r="1.25"/><circle cx="146.8" cy="504.1" r="1.25"/></g>
<g fill="#8a8a96" opacity="0.12"><circle cx="139.2" cy="589.0" r="1.25"/><circle cx="157.5" cy="590.7" r="1.25"/><circle cx="300.1" cy="590.5" r="1.25"/><circle cx="127.4" cy="592.3" r="1.25"/><circle cx="141.8" cy="592.2" r="1.25"/><circle cx="202.9" cy="588.5" r="1.25"/><circle cx="271.6" cy="593.6" r="1.25"/><circle cx="69.1" cy="588.9" r="1.25"/><circle cx="44.2" cy="590.8" r="1.25"/><circle cx="239.8" cy="595.0" r="1.25"/><circle cx="258.3" cy="588.2" r="1.25"/><circle cx="127.0" cy="589.4" r="1.25"/><circle cx="252.2" cy="591.5" r="1.25"/><circle cx="164.7" cy="595.6" r="1.25"/><circle cx="138.0" cy="600.4" r="1.25"/><circle cx="112.2" cy="589.5" r="1.25"/><circle cx="263.7" cy="584.8" r="1.25"/><circle cx="304.7" cy="594.6" r="1.25"/><circle cx="298.9" cy="583.4" r="1.25"/><circle cx="95.4" cy="576.7" r="1.25"/><circle cx="262.1" cy="587.9" r="1.25"/><circle cx="162.0" cy="588.0" r="1.25"/><circle cx="271.6" cy="592.7" r="1.25"/><circle cx="287.8" cy="594.4" r="1.25"/><circle cx="278.9" cy="592.9" r="1.25"/><circle cx="118.8" cy="591.3" r="1.25"/><circle cx="120.7" cy="602.2" r="1.25"/><circle cx="204.2" cy="584.9" r="1.25"/><circle cx="266.2" cy="587.6" r="1.25"/><circle cx="241.8" cy="589.4" r="1.25"/><circle cx="134.0" cy="590.9" r="1.25"/><circle cx="54.0" cy="589.2" r="1.25"/><circle cx="153.8" cy="596.3" r="1.25"/><circle cx="195.9" cy="592.7" r="1.25"/><circle cx="120.3" cy="583.2" r="1.25"/><circle cx="132.7" cy="590.3" r="1.25"/><circle cx="175.6" cy="594.2" r="1.25"/><circle cx="54.3" cy="588.2" r="1.25"/><circle cx="121.9" cy="591.9" r="1.25"/><circle cx="48.2" cy="588.6" r="1.25"/><circle cx="172.7" cy="580.3" r="1.25"/><circle cx="139.4" cy="589.8" r="1.25"/><circle cx="162.5" cy="592.3" r="1.25"/><circle cx="68.0" cy="591.3" r="1.25"/><circle cx="256.8" cy="597.0" r="1.25"/><circle cx="134.9" cy="593.3" r="1.25"/><circle cx="247.3" cy="600.6" r="1.25"/><circle cx="270.7" cy="591.3" r="1.25"/><circle cx="286.7" cy="592.3" r="1.25"/><circle cx="167.4" cy="599.0" r="1.25"/><circle cx="187.2" cy="596.8" r="1.25"/><circle cx="266.1" cy="594.2" r="1.25"/><circle cx="276.8" cy="582.7" r="1.25"/><circle cx="210.1" cy="588.3" r="1.25"/><circle cx="205.1" cy="589.7" r="1.25"/><circle cx="171.1" cy="592.1" r="1.25"/><circle cx="143.6" cy="588.1" r="1.25"/><circle cx="195.4" cy="592.2" r="1.25"/><circle cx="79.8" cy="591.0" r="1.25"/><circle cx="243.0" cy="597.3" r="1.25"/><circle cx="124.7" cy="590.7" r="1.25"/><circle cx="102.0" cy="591.6" r="1.25"/><circle cx="242.4" cy="584.5" r="1.25"/><circle cx="115.9" cy="597.5" r="1.25"/><circle cx="62.3" cy="593.3" r="1.25"/><circle cx="56.7" cy="599.5" r="1.25"/><circle cx="298.0" cy="592.5" r="1.25"/><circle cx="172.3" cy="591.4" r="1.25"/><circle cx="133.3" cy="582.4" r="1.25"/><circle cx="298.0" cy="584.4" r="1.25"/><circle cx="74.2" cy="595.1" r="1.25"/><circle cx="225.6" cy="589.7" r="1.25"/><circle cx="70.3" cy="593.9" r="1.25"/><circle cx="170.5" cy="586.4" r="1.25"/><circle cx="160.1" cy="601.5" r="1.25"/><circle cx="297.1" cy="598.3" r="1.25"/><circle cx="290.4" cy="589.3" r="1.25"/><circle cx="107.5" cy="594.5" r="1.25"/><circle cx="166.9" cy="595.7" r="1.25"/><circle cx="136.5" cy="596.8" r="1.25"/><circle cx="313.7" cy="591.5" r="1.25"/><circle cx="65.1" cy="590.2" r="1.25"/><circle cx="97.8" cy="592.4" r="1.25"/><circle cx="51.5" cy="601.3" r="1.25"/><circle cx="105.4" cy="590.7" r="1.25"/><circle cx="287.8" cy="581.8" r="1.25"/><circle cx="112.7" cy="580.1" r="1.25"/><circle cx="308.1" cy="582.8" r="1.25"/><circle cx="237.8" cy="599.8" r="1.25"/><circle cx="251.8" cy="589.6" r="1.25"/><circle cx="180.6" cy="592.0" r="1.25"/><circle cx="222.8" cy="584.7" r="1.25"/><circle cx="129.5" cy="593.1" r="1.25"/><circle cx="308.0" cy="593.4" r="1.25"/><circle cx="98.3" cy="589.1" r="1.25"/><circle cx="302.2" cy="577.8" r="1.25"/><circle cx="295.4" cy="585.6" r="1.25"/><circle cx="266.6" cy="599.8" r="1.25"/><circle cx="196.4" cy="583.5" r="1.25"/><circle cx="270.7" cy="587.3" r="1.25"/><circle cx="271.2" cy="589.3" r="1.25"/><circle cx="241.7" cy="590.6" r="1.25"/><circle cx="174.7" cy="578.4" r="1.25"/><circle cx="163.4" cy="601.2" r="1.25"/><circle cx="226.4" cy="595.3" r="1.25"/><circle cx="141.5" cy="598.2" r="1.25"/><circle cx="216.5" cy="580.8" r="1.25"/><circle cx="239.7" cy="586.4" r="1.25"/><circle cx="261.5" cy="594.6" r="1.25"/><circle cx="164.5" cy="590.3" r="1.25"/><circle cx="227.8" cy="593.6" r="1.25"/><circle cx="41.0" cy="591.9" r="1.25"/><circle cx="149.8" cy="591.0" r="1.25"/><circle cx="101.1" cy="587.3" r="1.25"/><circle cx="154.7" cy="595.1" r="1.25"/><circle cx="226.8" cy="602.2" r="1.25"/><circle cx="45.7" cy="586.2" r="1.25"/><circle cx="242.0" cy="596.5" r="1.25"/><circle cx="209.4" cy="594.1" r="1.25"/><circle cx="59.7" cy="587.3" r="1.25"/><circle cx="223.3" cy="583.6" r="1.25"/><circle cx="291.5" cy="588.5" r="1.25"/><circle cx="224.3" cy="598.7" r="1.25"/><circle cx="304.9" cy="597.1" r="1.25"/><circle cx="264.3" cy="585.3" r="1.25"/><circle cx="44.0" cy="591.5" r="1.25"/><circle cx="209.6" cy="598.0" r="1.25"/><circle cx="209.0" cy="599.2" r="1.25"/><circle cx="140.3" cy="581.1" r="1.25"/><circle cx="212.4" cy="590.9" r="1.25"/><circle cx="311.9" cy="599.8" r="1.25"/><circle cx="253.2" cy="596.9" r="1.25"/><circle cx="313.5" cy="602.2" r="1.25"/><circle cx="149.5" cy="588.5" r="1.25"/><circle cx="43.1" cy="593.4" r="1.25"/><circle cx="313.9" cy="586.8" r="1.25"/><circle cx="149.0" cy="592.4" r="1.25"/><circle cx="66.8" cy="583.1" r="1.25"/><circle cx="124.3" cy="593.3" r="1.25"/><circle cx="205.0" cy="589.5" r="1.25"/><circle cx="156.7" cy="589.6" r="1.25"/><circle cx="309.7" cy="595.7" r="1.25"/><circle cx="94.0" cy="594.9" r="1.25"/><circle cx="43.9" cy="591.9" r="1.25"/><circle cx="123.2" cy="587.7" r="1.25"/><circle cx="174.8" cy="593.8" r="1.25"/><circle cx="184.6" cy="591.8" r="1.25"/><circle cx="58.1" cy="584.6" r="1.25"/><circle cx="136.4" cy="593.3" r="1.25"/><circle cx="252.5" cy="581.6" r="1.25"/><circle cx="233.4" cy="600.0" r="1.25"/><circle cx="244.5" cy="597.1" r="1.25"/><circle cx="55.3" cy="585.1" r="1.25"/><circle cx="271.8" cy="584.7" r="1.25"/><circle cx="313.1" cy="590.7" r="1.25"/><circle cx="196.5" cy="594.2" r="1.25"/><circle cx="212.3" cy="593.4" r="1.25"/><circle cx="307.3" cy="592.9" r="1.25"/><circle cx="180.9" cy="592.9" r="1.25"/><circle cx="146.2" cy="576.3" r="1.25"/><circle cx="59.3" cy="593.1" r="1.25"/><circle cx="100.2" cy="594.7" r="1.25"/><circle cx="123.5" cy="594.8" r="1.25"/><circle cx="223.4" cy="594.1" r="1.25"/><circle cx="289.9" cy="580.0" r="1.25"/><circle cx="294.3" cy="591.8" r="1.25"/><circle cx="109.9" cy="590.1" r="1.25"/><circle cx="200.6" cy="593.2" r="1.25"/><circle cx="60.9" cy="580.6" r="1.25"/><circle cx="75.0" cy="583.6" r="1.25"/><circle cx="237.9" cy="591.4" r="1.25"/><circle cx="258.9" cy="591.2" r="1.25"/><circle cx="56.8" cy="583.7" r="1.25"/><circle cx="177.0" cy="597.6" r="1.25"/><circle cx="163.2" cy="583.0" r="1.25"/><circle cx="50.8" cy="589.7" r="1.25"/><circle cx="185.2" cy="584.0" r="1.25"/><circle cx="72.2" cy="594.8" r="1.25"/><circle cx="239.0" cy="592.6" r="1.25"/><circle cx="253.0" cy="595.7" r="1.25"/></g>
<rect x="39.6" y="501.8" width="276.4" height="107.40000000000003" fill="none" stroke="#8c8c8c" stroke-width="1.0"/>
<line x1="40" y1="535.07" x2="316" y2="535.07" stroke="#9c9c9c" stroke-width="0.9" stroke-dasharray="2.2,2.65"/>
<line x1="40" y1="572.35" x2="316" y2="572.35" stroke="#b2b2ba" stroke-width="1.2"/>
<rect x="39.6" y="608.8" width="276.4" height="3.4" fill="#f4a7bd"/>
<line x1="36.4" y1="609.20" x2="39.6" y2="609.20" stroke="#5a5a5a" stroke-width="0.9"/>
<line x1="36.4" y1="598.58" x2="39.6" y2="598.58" stroke="#5a5a5a" stroke-width="0.9"/>
<line x1="36.4" y1="587.96" x2="39.6" y2="587.96" stroke="#5a5a5a" stroke-width="0.9"/>
<line x1="36.4" y1="577.34" x2="39.6" y2="577.34" stroke="#5a5a5a" stroke-width="0.9"/>
<line x1="36.4" y1="566.72" x2="39.6" y2="566.72" stroke="#5a5a5a" stroke-width="0.9"/>
<line x1="36.4" y1="556.10" x2="39.6" y2="556.10" stroke="#5a5a5a" stroke-width="0.9"/>
<line x1="36.4" y1="545.48" x2="39.6" y2="545.48" stroke="#5a5a5a" stroke-width="0.9"/>
<line x1="36.4" y1="534.86" x2="39.6" y2="534.86" stroke="#5a5a5a" stroke-width="0.9"/>
<line x1="36.4" y1="524.24" x2="39.6" y2="524.24" stroke="#5a5a5a" stroke-width="0.9"/>
<line x1="36.4" y1="513.62" x2="39.6" y2="513.62" stroke="#5a5a5a" stroke-width="0.9"/>
<line x1="36.4" y1="503.00" x2="39.6" y2="503.00" stroke="#5a5a5a" stroke-width="0.9"/>
<text x="33.60" y="609.20" font-size="7.4" text-anchor="middle" fill="#222" font-weight="normal" transform="rotate(-90 33.6 609.2)">0</text>
<text x="33.60" y="556.10" font-size="7.4" text-anchor="middle" fill="#222" font-weight="normal" transform="rotate(-90 33.6 556.1)">0.5</text>
<text x="33.60" y="503.00" font-size="7.4" text-anchor="middle" fill="#222" font-weight="normal" transform="rotate(-90 33.6 503.00000000000006)">1</text>
<text x="24.90" y="548.80" font-size="7.5" text-anchor="middle" fill="#222" font-weight="normal" transform="rotate(-90 24.9 548.8)">Allele frequency</text>
<line x1="50.20" y1="609.20" x2="50.20" y2="612.00" stroke="#5a5a5a" stroke-width="0.9"/>
<line x1="80.73" y1="609.20" x2="80.73" y2="612.00" stroke="#5a5a5a" stroke-width="0.9"/>
<line x1="111.25" y1="609.20" x2="111.25" y2="612.00" stroke="#5a5a5a" stroke-width="0.9"/>
<line x1="141.78" y1="609.20" x2="141.78" y2="612.00" stroke="#5a5a5a" stroke-width="0.9"/>
<line x1="172.30" y1="609.20" x2="172.30" y2="612.00" stroke="#5a5a5a" stroke-width="0.9"/>
<line x1="202.82" y1="609.20" x2="202.82" y2="612.00" stroke="#5a5a5a" stroke-width="0.9"/>
<line x1="233.35" y1="609.20" x2="233.35" y2="612.00" stroke="#5a5a5a" stroke-width="0.9"/>
<line x1="263.88" y1="609.20" x2="263.88" y2="612.00" stroke="#5a5a5a" stroke-width="0.9"/>
<line x1="294.40" y1="609.20" x2="294.40" y2="612.00" stroke="#5a5a5a" stroke-width="0.9"/>
<text x="50.20" y="620.60" font-size="7.4" text-anchor="middle" fill="#222" font-weight="normal">20</text>
<text x="80.73" y="620.60" font-size="7.4" text-anchor="middle" fill="#222" font-weight="normal">30</text>
<text x="111.25" y="620.60" font-size="7.4" text-anchor="middle" fill="#222" font-weight="normal">40</text>
<text x="141.78" y="620.60" font-size="7.4" text-anchor="middle" fill="#222" font-weight="normal">50</text>
<text x="172.30" y="620.60" font-size="7.4" text-anchor="middle" fill="#222" font-weight="normal">60</text>
<text x="202.82" y="620.60" font-size="7.4" text-anchor="middle" fill="#222" font-weight="normal">70</text>
<text x="233.35" y="620.60" font-size="7.4" text-anchor="middle" fill="#222" font-weight="normal">80</text>
<text x="263.88" y="620.60" font-size="7.4" text-anchor="middle" fill="#222" font-weight="normal">90</text>
<text x="294.40" y="620.60" font-size="7.4" text-anchor="middle" fill="#222" font-weight="normal">100</text>
<text x="172.20" y="630.60" font-size="7.4" text-anchor="middle" fill="#222" font-weight="normal">Position (MB)</text>
<text x="42.90" y="527.80" font-size="5.45" text-anchor="start" fill="#222" font-weight="normal" stroke="#fff" stroke-width="1.4" paint-order="stroke" stroke-linejoin="round">SLC7A7</text>
<text x="65.40" y="532.40" font-size="5.45" text-anchor="start" fill="#222" font-weight="normal" stroke="#fff" stroke-width="1.4" paint-order="stroke" stroke-linejoin="round">ADCY4</text>
<text x="91.10" y="529.00" font-size="5.45" text-anchor="start" fill="#222" font-weight="normal" stroke="#fff" stroke-width="1.4" paint-order="stroke" stroke-linejoin="round">AKAP6</text>
<text x="40.80" y="539.80" font-size="5.45" text-anchor="start" fill="#222" font-weight="normal" stroke="#fff" stroke-width="1.4" paint-order="stroke" stroke-linejoin="round">SALL2</text>
<text x="64.20" y="539.80" font-size="5.45" text-anchor="start" fill="#222" font-weight="normal" stroke="#fff" stroke-width="1.4" paint-order="stroke" stroke-linejoin="round">CPNE6</text>
<text x="41.40" y="553.20" font-size="5.45" text-anchor="start" fill="#222" font-weight="normal" stroke="#fff" stroke-width="1.4" paint-order="stroke" stroke-linejoin="round">OR4M1</text>
<text x="133.00" y="528.60" font-size="5.45" text-anchor="start" fill="#222" font-weight="normal" stroke="#fff" stroke-width="1.4" paint-order="stroke" stroke-linejoin="round">SOS2</text>
<text x="136.10" y="542.00" font-size="5.45" text-anchor="start" fill="#222" font-weight="normal" stroke="#fff" stroke-width="1.4" paint-order="stroke" stroke-linejoin="round">PYGL</text>
<text x="155.00" y="526.80" font-size="5.45" text-anchor="start" fill="#222" font-weight="normal" stroke="#fff" stroke-width="1.4" paint-order="stroke" stroke-linejoin="round">SNAPC1</text>
<text x="179.70" y="526.30" font-size="5.45" text-anchor="start" fill="#222" font-weight="normal" stroke="#fff" stroke-width="1.4" paint-order="stroke" stroke-linejoin="round">SPTB</text>
<text x="144.60" y="555.10" font-size="5.45" text-anchor="start" fill="#222" font-weight="normal" stroke="#fff" stroke-width="1.4" paint-order="stroke" stroke-linejoin="round">SAMD4A</text>
<text x="201.50" y="519.20" font-size="5.45" text-anchor="start" fill="#222" font-weight="normal" stroke="#fff" stroke-width="1.4" paint-order="stroke" stroke-linejoin="round">C14orf115</text>
<text x="208.30" y="531.30" font-size="5.45" text-anchor="start" fill="#222" font-weight="normal" stroke="#fff" stroke-width="1.4" paint-order="stroke" stroke-linejoin="round">PCNX</text>
<text x="215.80" y="538.00" font-size="5.45" text-anchor="start" fill="#222" font-weight="normal" stroke="#fff" stroke-width="1.4" paint-order="stroke" stroke-linejoin="round">HEATR4</text>
<text x="211.00" y="551.50" font-size="5.45" text-anchor="start" fill="#222" font-weight="normal" stroke="#fff" stroke-width="1.4" paint-order="stroke" stroke-linejoin="round">NEK9</text>
<text x="264.00" y="540.70" font-size="5.45" text-anchor="start" fill="#222" font-weight="normal" stroke="#fff" stroke-width="1.4" paint-order="stroke" stroke-linejoin="round">BTBD7</text>
<text x="297.10" y="541.80" font-size="5.45" text-anchor="start" fill="#222" font-weight="normal" stroke="#fff" stroke-width="1.4" paint-order="stroke" stroke-linejoin="round">BAG5</text>
<text x="280.40" y="551.50" font-size="5.45" text-anchor="start" fill="#222" font-weight="normal" stroke="#fff" stroke-width="1.4" paint-order="stroke" stroke-linejoin="round">BCL11B</text>
<text x="150.80" y="536.00" font-size="5.45" text-anchor="start" fill="#222" font-weight="normal" transform="rotate(40 150.8 536.0)" stroke="#fff" stroke-width="1.4" paint-order="stroke" stroke-linejoin="round">SOCS4</text>
<text x="167.00" y="539.40" font-size="5.45" text-anchor="start" fill="#222" font-weight="normal" transform="rotate(40 167.0 539.4)" stroke="#fff" stroke-width="1.4" paint-order="stroke" stroke-linejoin="round">GAAM1</text>
<text x="180.80" y="540.20" font-size="5.45" text-anchor="start" fill="#222" font-weight="normal" transform="rotate(40 180.8 540.2)" stroke="#fff" stroke-width="1.4" paint-order="stroke" stroke-linejoin="round">KCNH5</text>
<text x="191.00" y="530.40" font-size="5.45" text-anchor="start" fill="#222" font-weight="normal" transform="rotate(40 191.0 530.4)" stroke="#fff" stroke-width="1.4" paint-order="stroke" stroke-linejoin="round">GALNTL1</text>
<path d="M57.50,528.01 L59.25,531.16 L55.75,531.16 Z" fill="#f3c9ce" stroke="#c25866" stroke-width="0.7"/>
<path d="M62.20,528.51 L63.95,531.66 L60.45,531.66 Z" fill="#f3c9ce" stroke="#c25866" stroke-width="0.7"/>
<path d="M54.20,531.31 L55.95,534.46 L52.45,534.46 Z" fill="#f3c9ce" stroke="#c25866" stroke-width="0.7"/>
<path d="M61.50,532.81 L63.25,535.96 L59.75,535.96 Z" fill="#f3c9ce" stroke="#c25866" stroke-width="0.7"/>
<path d="M48.50,544.21 L50.25,547.36 L46.75,547.36 Z" fill="#f3c9ce" stroke="#c25866" stroke-width="0.7"/>
<path d="M87.40,527.15 L89.30,530.57 L85.50,530.57 Z" fill="#b5424c" stroke="#a83a44" stroke-width="0.7"/>
<path d="M141.70,529.41 L143.45,532.56 L139.95,532.56 Z" fill="#f3c9ce" stroke="#c25866" stroke-width="0.7"/>
<path d="M143.60,533.31 L145.35,536.46 L141.85,536.46 Z" fill="#f3c9ce" stroke="#c25866" stroke-width="0.7"/>
<path d="M156.70,530.11 L158.45,533.26 L154.95,533.26 Z" fill="#f3c9ce" stroke="#c25866" stroke-width="0.7"/>
<path d="M177.30,525.81 L179.05,528.96 L175.55,528.96 Z" fill="#f3c9ce" stroke="#c25866" stroke-width="0.7"/>
<path d="M185.80,526.75 L187.70,530.17 L183.90,530.17 Z" fill="#b5424c" stroke="#a83a44" stroke-width="0.7"/>
<path d="M155.70,546.61 L157.45,549.76 L153.95,549.76 Z" fill="#f3c9ce" stroke="#c25866" stroke-width="0.7"/>
<path d="M169.00,533.31 L170.75,536.46 L167.25,536.46 Z" fill="#f3c9ce" stroke="#c25866" stroke-width="0.7"/>
<path d="M179.20,536.21 L180.95,539.36 L177.45,539.36 Z" fill="#f3c9ce" stroke="#c25866" stroke-width="0.7"/>
<path d="M199.70,527.41 L201.45,530.56 L197.95,530.56 Z" fill="#f3c9ce" stroke="#c25866" stroke-width="0.7"/>
<path d="M205.60,526.01 L207.35,529.16 L203.85,529.16 Z" fill="#f3c9ce" stroke="#c25866" stroke-width="0.7"/>
<path d="M215.00,519.81 L216.75,522.96 L213.25,522.96 Z" fill="#f3c9ce" stroke="#c25866" stroke-width="0.7"/>
<path d="M212.30,533.31 L214.05,536.46 L210.55,536.46 Z" fill="#f3c9ce" stroke="#c25866" stroke-width="0.7"/>
<path d="M217.70,542.71 L219.45,545.86 L215.95,545.86 Z" fill="#f3c9ce" stroke="#c25866" stroke-width="0.7"/>
<path d="M272.90,531.85 L274.80,535.27 L271.00,535.27 Z" fill="#b5424c" stroke="#a83a44" stroke-width="0.7"/>
<path d="M304.40,532.65 L306.30,536.07 L302.50,536.07 Z" fill="#b5424c" stroke="#a83a44" stroke-width="0.7"/>
<path d="M290.90,551.31 L292.65,554.46 L289.15,554.46 Z" fill="#f3c9ce" stroke="#c25866" stroke-width="0.7"/>
<circle cx="45.90" cy="579.00" r="1.2" fill="#7d84a6" stroke="#3e4470" stroke-width="0.85"/>
<circle cx="202.30" cy="568.30" r="1.2" fill="#7d84a6" stroke="#3e4470" stroke-width="0.85"/>
<circle cx="264.30" cy="587.20" r="1.2" fill="#7d84a6" stroke="#3e4470" stroke-width="0.85"/>
<circle cx="308.70" cy="597.90" r="1.2" fill="#7d84a6" stroke="#3e4470" stroke-width="0.85"/>
<rect x="328.34" y="600.82" width="3.34" height="8.18" fill="#f4f4f4" stroke="#8a8a8a" stroke-width="0.8"/>
<rect x="338.36" y="600.82" width="3.34" height="8.18" fill="#f4f4f4" stroke="#8a8a8a" stroke-width="0.8"/>
<rect x="341.70" y="600.82" width="3.34" height="8.18" fill="#f4f4f4" stroke="#8a8a8a" stroke-width="0.8"/>
<rect x="348.38" y="600.82" width="3.34" height="8.18" fill="#f4f4f4" stroke="#8a8a8a" stroke-width="0.8"/>
<rect x="358.40" y="600.82" width="3.34" height="8.18" fill="#f4f4f4" stroke="#8a8a8a" stroke-width="0.8"/>
<rect x="361.74" y="576.28" width="3.34" height="32.72" fill="#f4f4f4" stroke="#8a8a8a" stroke-width="0.8"/>
<rect x="368.42" y="543.56" width="3.34" height="65.44" fill="#f4f4f4" stroke="#8a8a8a" stroke-width="0.8"/>
<rect x="371.76" y="510.84" width="3.34" height="98.16" fill="#f4f4f4" stroke="#8a8a8a" stroke-width="0.8"/>
<rect x="375.10" y="592.64" width="3.34" height="16.36" fill="#f4f4f4" stroke="#8a8a8a" stroke-width="0.8"/>
<rect x="378.44" y="600.82" width="3.34" height="8.18" fill="#f4f4f4" stroke="#8a8a8a" stroke-width="0.8"/>
<rect x="325.0" y="501.0" width="66.80000000000001" height="108.0" fill="none" stroke="#8c8c8c" stroke-width="1.0"/>
<line x1="325.00" y1="609.00" x2="325.00" y2="611.80" stroke="#5a5a5a" stroke-width="0.9"/>
<line x1="331.68" y1="609.00" x2="331.68" y2="611.80" stroke="#5a5a5a" stroke-width="0.9"/>
<line x1="338.36" y1="609.00" x2="338.36" y2="611.80" stroke="#5a5a5a" stroke-width="0.9"/>
<line x1="345.04" y1="609.00" x2="345.04" y2="611.80" stroke="#5a5a5a" stroke-width="0.9"/>
<line x1="351.72" y1="609.00" x2="351.72" y2="611.80" stroke="#5a5a5a" stroke-width="0.9"/>
<line x1="358.40" y1="609.00" x2="358.40" y2="611.80" stroke="#5a5a5a" stroke-width="0.9"/>
<line x1="365.08" y1="609.00" x2="365.08" y2="611.80" stroke="#5a5a5a" stroke-width="0.9"/>
<line x1="371.76" y1="609.00" x2="371.76" y2="611.80" stroke="#5a5a5a" stroke-width="0.9"/>
<line x1="378.44" y1="609.00" x2="378.44" y2="611.80" stroke="#5a5a5a" stroke-width="0.9"/>
<line x1="385.12" y1="609.00" x2="385.12" y2="611.80" stroke="#5a5a5a" stroke-width="0.9"/>
<line x1="391.80" y1="609.00" x2="391.80" y2="611.80" stroke="#5a5a5a" stroke-width="0.9"/>
<text x="325.00" y="620.60" font-size="7.4" text-anchor="middle" fill="#222" font-weight="normal">0</text>
<text x="358.40" y="620.60" font-size="7.4" text-anchor="middle" fill="#222" font-weight="normal">0.5</text>
<text x="391.80" y="620.60" font-size="7.4" text-anchor="middle" fill="#222" font-weight="normal">1</text>
<text x="357.80" y="630.40" font-size="7.4" text-anchor="middle" fill="#222" font-weight="normal">Allele frequency</text>
<line x1="391.8" y1="609.00" x2="394.6" y2="609.00" stroke="#5a5a5a" stroke-width="0.9"/>
<text x="401.00" y="609.00" font-size="7.0" text-anchor="middle" fill="#222" font-weight="normal" transform="rotate(-90 401.0 609.0)">0</text>
<line x1="391.8" y1="592.64" x2="394.6" y2="592.64" stroke="#5a5a5a" stroke-width="0.9"/>
<text x="401.00" y="592.64" font-size="7.0" text-anchor="middle" fill="#222" font-weight="normal" transform="rotate(-90 401.0 592.64)">2</text>
<line x1="391.8" y1="576.28" x2="394.6" y2="576.28" stroke="#5a5a5a" stroke-width="0.9"/>
<text x="401.00" y="576.28" font-size="7.0" text-anchor="middle" fill="#222" font-weight="normal" transform="rotate(-90 401.0 576.28)">4</text>
<line x1="391.8" y1="559.92" x2="394.6" y2="559.92" stroke="#5a5a5a" stroke-width="0.9"/>
<text x="401.00" y="559.92" font-size="7.0" text-anchor="middle" fill="#222" font-weight="normal" transform="rotate(-90 401.0 559.92)">6</text>
<line x1="391.8" y1="543.56" x2="394.6" y2="543.56" stroke="#5a5a5a" stroke-width="0.9"/>
<text x="401.00" y="543.56" font-size="7.0" text-anchor="middle" fill="#222" font-weight="normal" transform="rotate(-90 401.0 543.56)">8</text>
<line x1="391.8" y1="527.20" x2="394.6" y2="527.20" stroke="#5a5a5a" stroke-width="0.9"/>
<text x="401.00" y="527.20" font-size="7.0" text-anchor="middle" fill="#222" font-weight="normal" transform="rotate(-90 401.0 527.2)">10</text>
<line x1="391.8" y1="510.84" x2="394.6" y2="510.84" stroke="#5a5a5a" stroke-width="0.9"/>
<text x="401.00" y="510.84" font-size="7.0" text-anchor="middle" fill="#222" font-weight="normal" transform="rotate(-90 401.0 510.84000000000003)">12</text>
<text x="412.10" y="556.60" font-size="7.4" text-anchor="middle" fill="#222" font-weight="normal" transform="rotate(-90 412.09999999999997 556.6)">Counts</text>
<text x="439.00" y="508.30" font-size="7.45" text-anchor="start" fill="#222" font-weight="normal">CNLOH region</text>
<text x="439.00" y="517.90" font-size="7.45" text-anchor="start" fill="#222" font-weight="normal">Single nucleotide</text>
<text x="439.00" y="526.80" font-size="7.45" text-anchor="start" fill="#222" font-weight="normal">polymorphism</text>
<text x="439.00" y="535.90" font-size="7.45" text-anchor="start" fill="#222" font-weight="normal">Homozygous mutation,</text>
<text x="439.00" y="544.80" font-size="7.45" text-anchor="start" fill="#222" font-weight="normal">CNLOH region</text>
<text x="439.00" y="554.30" font-size="7.45" text-anchor="start" fill="#222" font-weight="normal">Heterozygous mutation,</text>
<text x="439.00" y="562.80" font-size="7.45" text-anchor="start" fill="#222" font-weight="normal">CNLOH region</text>
<text x="439.00" y="571.70" font-size="7.45" text-anchor="start" fill="#222" font-weight="normal">Heterozygous mutation,</text>
<text x="439.00" y="580.20" font-size="7.45" text-anchor="start" fill="#222" font-weight="normal">non–CNLOH region</text>
<text x="439.00" y="589.70" font-size="7.45" text-anchor="start" fill="#222" font-weight="normal">Estimated homozygous</text>
<text x="439.00" y="598.60" font-size="7.45" text-anchor="start" fill="#222" font-weight="normal">allele frequency</text>
<text x="439.00" y="607.70" font-size="7.45" text-anchor="start" fill="#222" font-weight="normal">Estimated heterozygous</text>
<text x="439.00" y="616.20" font-size="7.45" text-anchor="start" fill="#222" font-weight="normal">allele frequency</text>
<text x="439.00" y="625.20" font-size="7.45" text-anchor="start" fill="#222" font-weight="normal">Centromere</text>
<line x1="422" y1="506" x2="435.4" y2="506" stroke="#f4a7bd" stroke-width="2.2"/>
<circle cx="428.6" cy="515.6" r="1.4" fill="#cfcfcf"/>
<path d="M428.60,532.15 L430.50,535.57 L426.70,535.57 Z" fill="#f2b7bd" stroke="#c84f5c" stroke-width="0.7"/>
<circle cx="428.60" cy="552.10" r="1.3" fill="#7d84a6" stroke="#3e4470" stroke-width="0.85"/>
<path d="M427.2,567.1 L430,569.9 M430,567.1 L427.2,569.9" stroke="#e3a43a" stroke-width="0.9"/>
<line x1="423" y1="587.60" x2="435.4" y2="587.60" stroke="#8a8a8a" stroke-width="0.9" stroke-dasharray="2.4,2.2"/>
<line x1="423" y1="605.60" x2="435.4" y2="605.60" stroke="#a9a9a9" stroke-width="1.1"/>
<path d="M426.40,621.22 L430.80,621.22 L428.60,625.18 Z" fill="#111"/>
</svg>
</body></html>
